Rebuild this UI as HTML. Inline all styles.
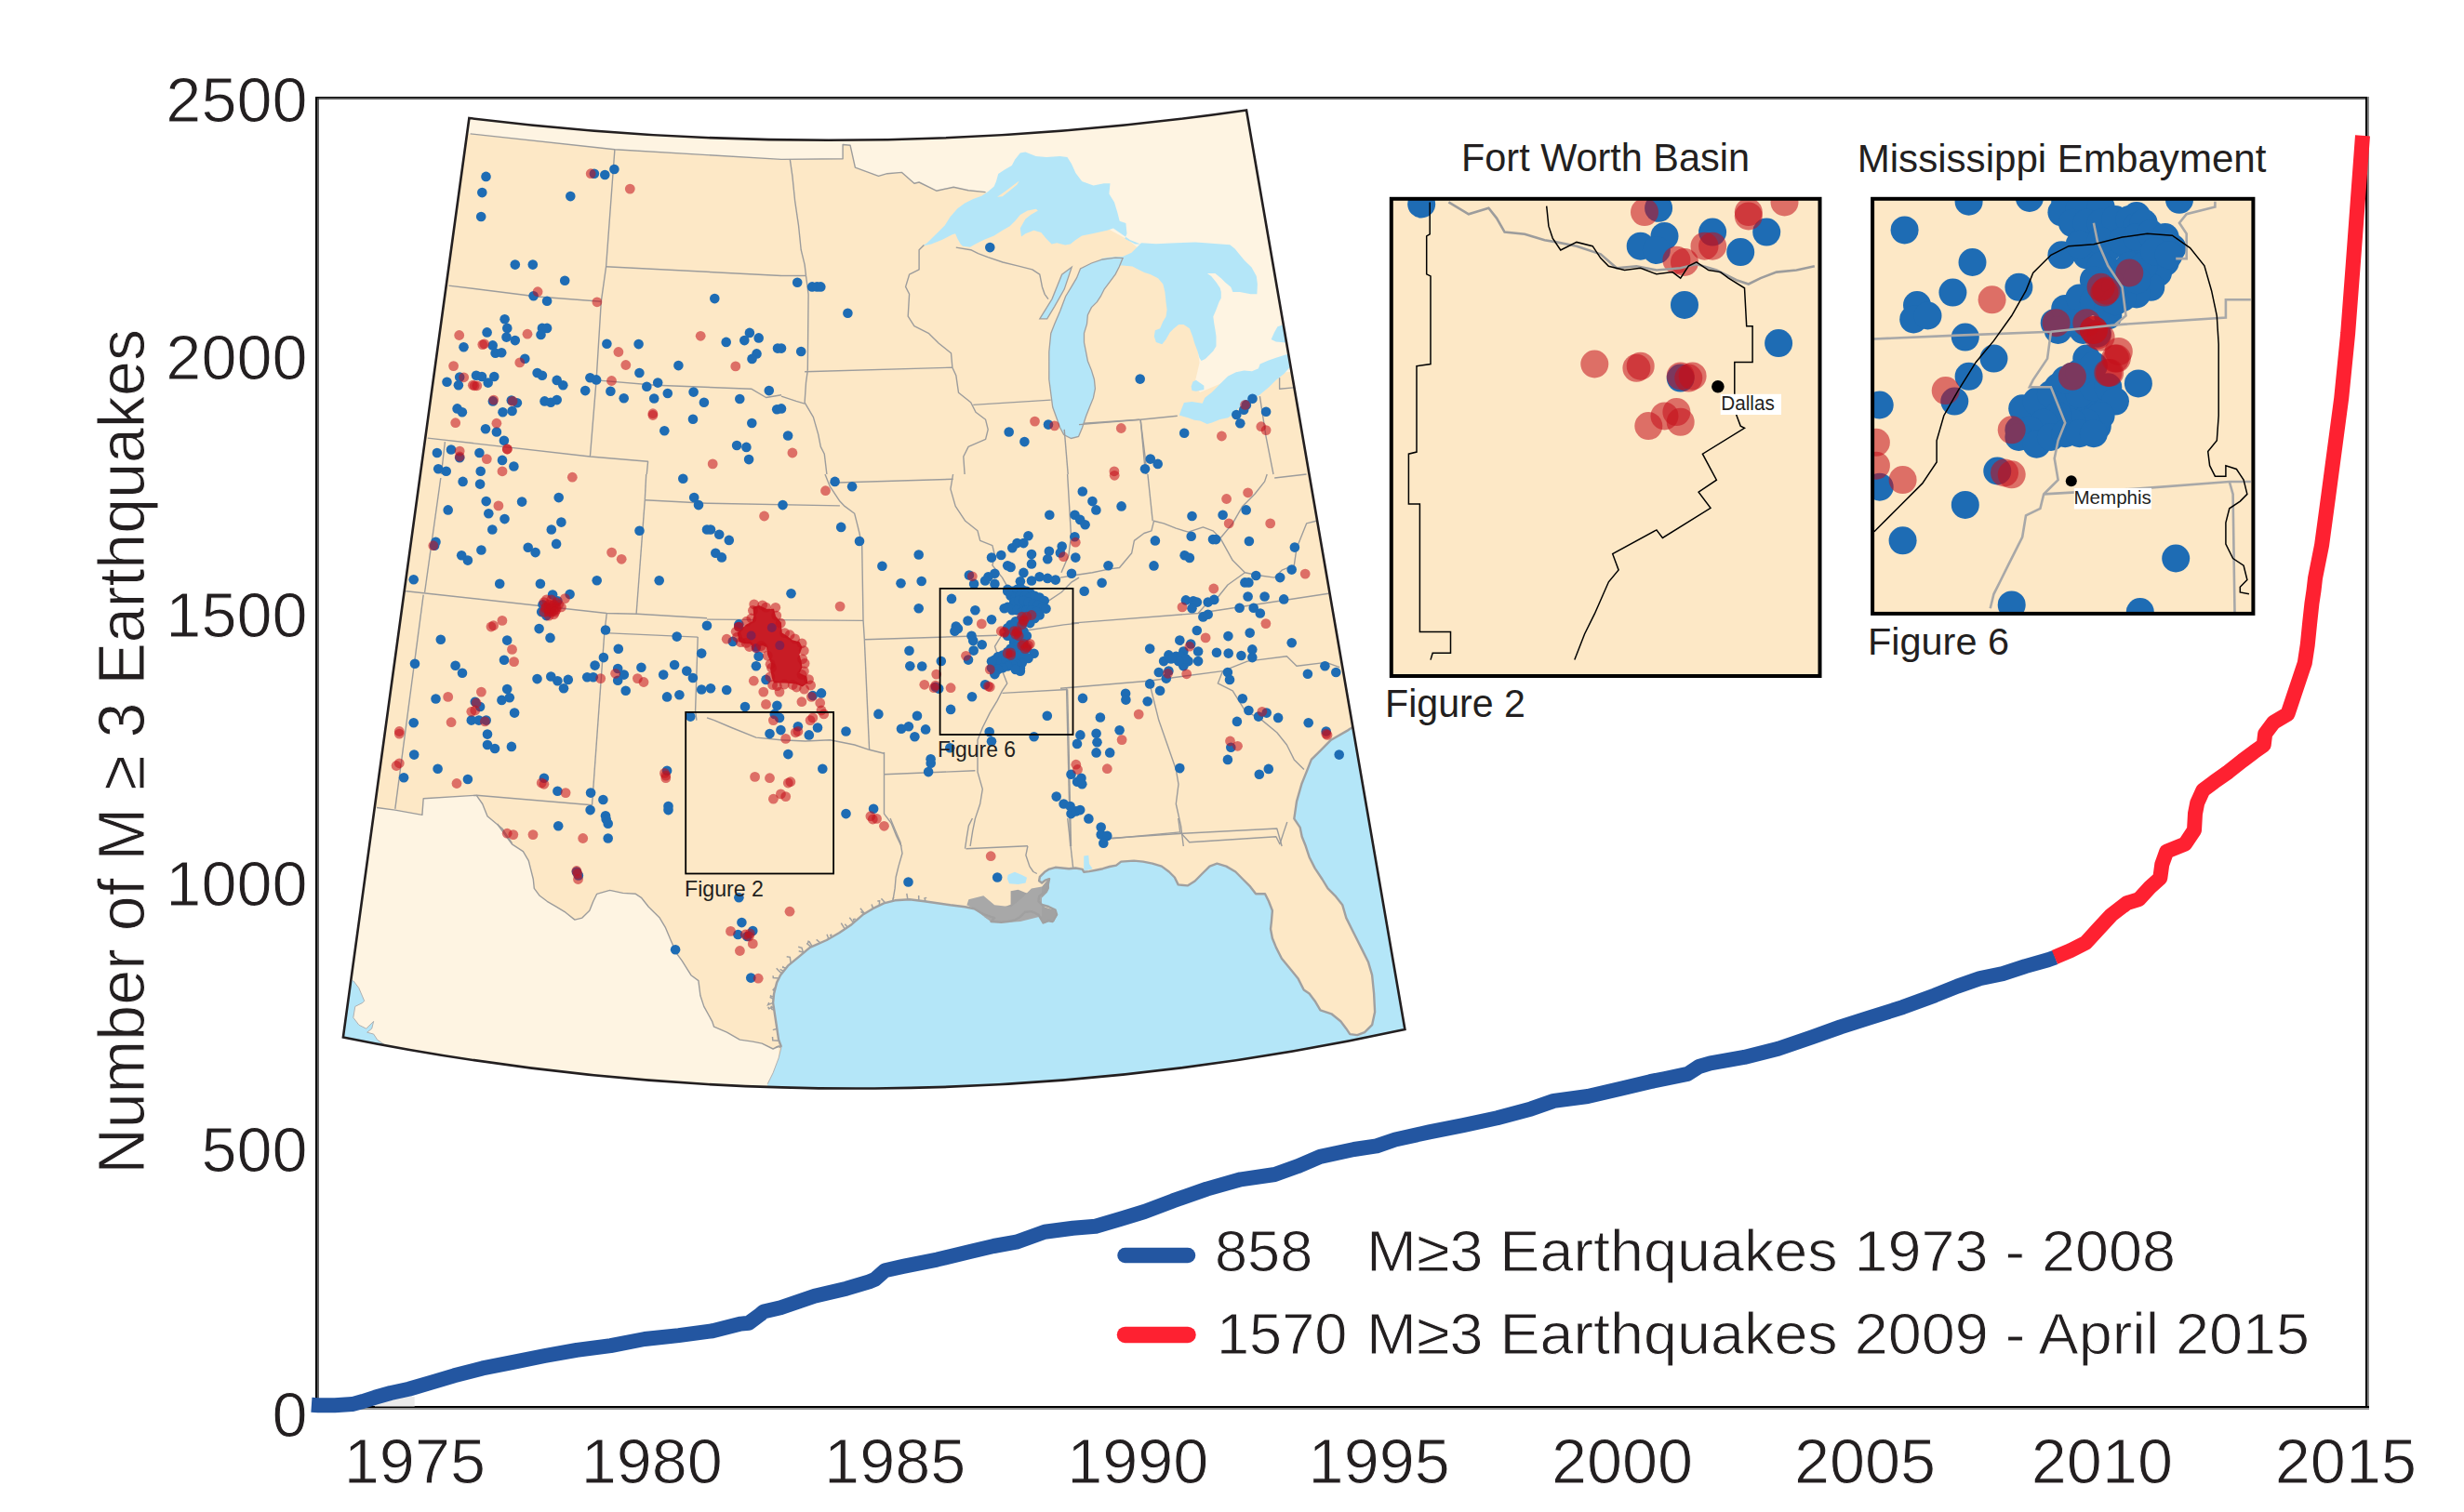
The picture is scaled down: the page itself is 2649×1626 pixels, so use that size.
<!DOCTYPE html>
<html><head><meta charset="utf-8"><title>Cumulative M&#8805;3 earthquakes</title>
<style>html,body{margin:0;padding:0;background:#fff;}body{width:2649px;height:1626px;overflow:hidden;}svg{display:block;}</style>
</head><body>
<svg width="2649" height="1626" viewBox="0 0 2649 1626">
<rect width="2649" height="1626" fill="#fff"/>
<rect x="339" y="104" width="2" height="1412" fill="#000"/>
<rect x="341" y="105" width="2" height="1409" fill="#606060"/>
<rect x="339" y="104" width="2208" height="1.3" fill="#000"/>
<rect x="341" y="105.3" width="2204" height="1.5" fill="#303030"/>
<rect x="2543" y="104" width="2" height="1412" fill="#000"/>
<rect x="2545" y="104" width="2" height="1412" fill="#888"/>
<rect x="339" y="1512" width="2208" height="2" fill="#000"/>
<rect x="339" y="1514" width="2208" height="2" fill="#959595"/>
<defs><clipPath id="mclip"><path d="M504.4,127 A3157.5,3157.5 0 0 0 1340,118.5 L1510.4,1107 A2777,2777 0 0 1 368.9,1115.4 Z"/></clipPath></defs>
<path d="M504.4,127 A3157.5,3157.5 0 0 0 1340,118.5 L1510.4,1107 A2777,2777 0 0 1 368.9,1115.4 Z" fill="#fde8c6"/>
<g clip-path="url(#mclip)">
<path d="M480.0,60.0 L1500.0,60.0 L1500.0,390.0 L1330.0,405.0 L1290.0,422.0 L1284.0,414.0 L1289.6,390.0 L1282.0,340.0 L1250.0,290.0 L1225.0,268.0 L1213.0,258.0 L1180.0,240.0 L1100.0,215.0 L1059.6,206.6 L1041.1,204.7 L1025.2,201.3 L1006.7,205.2 L988.1,196.0 L982.9,197.3 L969.6,185.4 L953.8,186.7 L944.5,189.4 L919.4,180.1 L914.1,156.3 L906.1,155.5 L906.1,170.8 L840.0,171.4 L660.9,160.8 L505.6,143.9 L480.0,143.0 Z" fill="#fef4e2"/>
<path d="M300.0,868.5 L405.0,868.5 L424.8,871.1 L453.9,876.4 L455.2,858.7 L512.1,855.2 L518.7,864.5 L524.0,877.7 L539.9,891.0 L534.6,886.0 L544.5,899.8 L550.5,907.8 L562.4,915.7 L568.3,925.6 L570.3,933.6 L573.3,945.5 L574.3,955.4 L580.2,963.3 L588.2,969.3 L598.1,975.2 L608.0,981.2 L617.9,989.1 L625.9,987.1 L633.8,979.2 L637.8,969.3 L641.7,961.3 L655.6,957.4 L669.5,960.4 L683.4,961.3 L689.4,965.3 L697.3,975.2 L709.2,987.1 L715.2,997.1 L721.1,1011.0 L727.1,1024.8 L733.0,1032.8 L742.9,1048.7 L750.9,1054.6 L752.9,1070.5 L756.8,1082.4 L765.6,1098.3 L767.6,1104.2 L781.5,1110.2 L795.4,1118.1 L809.3,1120.1 L819.2,1122.1 L831.1,1128.0 L837.1,1125.0 L837.1,1137.9 L831.1,1153.8 L825.2,1165.7 L824.0,1250.0 L300.0,1250.0 Z" fill="#fef4e2"/>
<path d="M824.0,1250.0 L825.2,1165.7 L831.1,1153.8 L837.1,1137.9 L840.0,1126.0 L837.1,1118.1 L834.1,1098.3 L831.1,1078.4 L832.1,1068.5 L835.1,1056.6 L839.0,1048.7 L847.0,1038.7 L858.9,1028.8 L870.8,1018.9 L888.7,1011.0 L902.5,1003.0 L914.4,995.1 L928.3,983.2 L938.3,977.2 L950.2,971.3 L962.1,968.3 L977.9,967.3 L993.8,969.3 L1007.7,971.3 L1021.6,973.3 L1037.5,975.2 L1047.4,977.2 L1057.3,983.2 L1069.2,987.1 L1065.5,991.0 L1076.4,991.7 L1083.7,991.0 L1090.9,989.5 L1096.8,985.9 L1101.9,980.8 L1109.1,980.1 L1116.4,983.7 L1121.5,992.4 L1127.3,990.2 L1131.7,991.0 L1136.1,983.7 L1134.6,978.6 L1127.3,975.0 L1120.1,972.8 L1116.4,969.1 L1117.1,964.0 L1122.2,959.7 L1125.9,955.3 L1128.1,945.1 L1123.7,946.6 L1120.1,949.5 L1117.1,947.3 L1117.9,942.9 L1123.0,937.8 L1127.3,934.9 L1134.6,932.8 L1141.9,933.5 L1149.2,934.2 L1156.4,933.5 L1163.7,934.9 L1165.2,937.8 L1171.0,937.1 L1178.3,935.7 L1185.6,934.2 L1192.8,932.0 L1200.0,930.6 L1205.2,926.6 L1219.1,925.6 L1229.0,926.6 L1239.0,928.6 L1248.9,931.6 L1256.8,937.5 L1262.8,943.5 L1266.7,951.4 L1276.7,952.4 L1284.6,947.5 L1292.5,939.5 L1300.5,931.6 L1308.4,928.6 L1318.3,931.6 L1328.3,937.5 L1336.2,945.5 L1344.1,953.4 L1350.1,961.3 L1360.0,961.3 L1364.0,969.3 L1367.9,979.2 L1366.9,991.1 L1366.0,999.0 L1367.9,1009.0 L1371.9,1018.9 L1377.9,1030.8 L1387.8,1042.7 L1395.7,1052.6 L1401.7,1064.5 L1407.6,1068.5 L1413.6,1076.4 L1419.5,1086.3 L1431.4,1090.3 L1441.3,1098.3 L1447.3,1106.2 L1451.3,1112.1 L1459.2,1113.1 L1467.1,1110.2 L1475.1,1102.2 L1478.1,1088.3 L1477.1,1068.5 L1475.1,1048.7 L1471.1,1034.8 L1463.2,1018.9 L1455.2,1003.0 L1447.3,987.1 L1443.3,973.3 L1435.4,963.3 L1427.5,955.4 L1421.5,945.5 L1413.6,933.6 L1407.6,921.7 L1403.7,909.8 L1399.7,899.8 L1397.7,889.9 L1391.3,880.4 L1394.0,861.9 L1399.3,843.3 L1404.6,830.1 L1409.8,816.9 L1420.4,806.3 L1431.0,795.7 L1449.5,785.1 L1455.3,781.2 L1600.0,781.0 L1600.0,1250.0 Z" fill="#b4e6f8"/>
<path d="M379.8,1054.6 L385.8,1062.5 L391.7,1076.4 L389.8,1078.4 L381.8,1082.4 L379.8,1094.3 L385.8,1102.2 L393.7,1106.2 L401.7,1098.3 L399.7,1106.2 L394.7,1110.2 L401.7,1112.1 L405.6,1118.1 L413.6,1123.7 L380.0,1250.0 L300.0,1250.0 L300.0,1054.6 Z" fill="#b4e6f8"/>
<path d="M991.1,264.7 L996.7,261.3 L1006.9,251.2 L1015.9,242.2 L1021.5,233.2 L1029.4,224.2 L1037.2,218.6 L1046.2,214.1 L1055.2,210.7 L1062.0,206.2 L1068.7,200.6 L1071.0,195.0 L1073.2,187.1 L1080.0,182.6 L1087.8,178.1 L1091.2,171.4 L1096.8,164.6 L1102.4,163.5 L1113.7,168.0 L1124.9,169.1 L1139.6,168.0 L1147.4,169.1 L1151.9,175.9 L1156.4,186.0 L1163.2,195.0 L1175.5,199.5 L1186.8,197.2 L1193.5,197.2 L1192.4,208.5 L1198.0,217.5 L1201.4,228.7 L1203.7,237.7 L1210.4,240.0 L1211.5,251.2 L1209.3,256.8 L1220.5,262.4 L1226.1,262.4 L1214.9,258.0 L1196.9,245.6 L1190.2,247.8 L1174.4,251.2 L1163.2,253.5 L1156.4,258.0 L1150.8,262.4 L1145.2,263.6 L1136.2,261.3 L1130.6,262.4 L1124.9,256.8 L1119.3,250.1 L1111.4,247.8 L1102.4,251.2 L1098.0,254.6 L1096.8,245.6 L1102.4,235.5 L1108.1,231.0 L1115.9,226.5 L1113.7,224.8 L1104.7,226.5 L1096.8,231.0 L1091.2,237.7 L1085.6,243.3 L1077.7,247.8 L1068.7,253.5 L1057.5,258.0 L1048.5,262.4 L1042.9,265.8 L1035.0,264.7 L1032.7,262.4 L1029.4,256.8 L1027.1,251.2 L1023.7,252.3 L1012.5,258.0 L1001.2,262.4 Z" fill="#b4e6f8"/>
<path d="M1139.7,460.0 L1131.7,437.8 L1127.8,408.0 L1127.8,378.3 L1129.8,358.4 L1133.7,348.5 L1139.7,334.6 L1145.6,318.7 L1151.6,308.8 L1157.5,298.9 L1161.5,289.0 L1173.4,283.0 L1185.3,279.0 L1199.2,277.1 L1207.1,277.5 L1203.2,287.0 L1199.2,294.9 L1193.3,302.9 L1187.3,310.8 L1183.3,318.7 L1179.4,324.7 L1173.4,330.6 L1169.4,338.6 L1168.5,348.5 L1165.5,358.4 L1165.5,368.3 L1167.5,378.3 L1169.4,388.2 L1173.4,398.1 L1176.4,408.0 L1177.4,417.9 L1175.4,427.9 L1171.4,437.8 L1167.5,447.7 L1163.5,460.0 L1159.5,469.5 L1151.6,471.5 L1143.7,467.5 Z" fill="#b4e6f8"/>
<path d="M1117.8,342.8 L1131.0,321.6 L1141.6,295.2 L1152.2,287.2 L1144.2,311.1 L1133.7,329.6 L1125.7,342.8 Z" fill="#b4e6f8"/>
<path d="M1190.0,287.6 L1196.3,286.6 L1200.6,285.5 L1206.9,285.5 L1217.5,286.6 L1221.7,288.7 L1230.2,292.9 L1236.6,295.0 L1245.0,299.3 L1250.3,305.6 L1252.4,314.1 L1253.5,324.7 L1254.6,333.1 L1253.5,340.5 L1250.3,345.8 L1247.1,353.2 L1241.9,355.3 L1240.8,361.7 L1242.9,368.0 L1249.3,370.2 L1253.5,364.9 L1257.7,357.5 L1262.0,353.2 L1267.2,349.0 L1272.5,349.0 L1278.9,353.2 L1282.1,361.7 L1284.2,369.1 L1287.4,377.6 L1289.5,385.0 L1291.6,388.1 L1295.8,386.0 L1300.1,381.8 L1304.3,377.6 L1307.5,372.3 L1307.5,361.7 L1306.4,354.3 L1305.3,347.9 L1304.3,340.5 L1307.5,333.1 L1310.6,324.7 L1312.8,320.4 L1312.8,314.1 L1311.7,309.8 L1307.5,303.5 L1302.2,297.1 L1297.9,294.0 L1306.4,294.0 L1312.8,299.3 L1317.0,303.5 L1323.3,308.8 L1325.4,314.1 L1332.9,314.1 L1344.5,316.2 L1351.4,316.2 L1351.9,305.6 L1350.8,297.1 L1345.6,287.6 L1338.1,280.2 L1332.9,273.9 L1327.6,267.5 L1322.3,263.3 L1295.8,261.2 L1285.2,260.6 L1264.1,261.2 L1242.9,262.2 L1227.0,261.2 L1221.7,266.5 L1216.5,271.7 L1206.9,276.0 L1200.6,276.0 L1190.0,277.0 L1183.7,278.1 L1183.7,287.6 Z" fill="#b4e6f8"/>
<path d="M1280.6,415.7 L1282.4,410.5 L1285.8,408.8 L1294.4,414.8 L1294.4,419.1 L1285.8,420.8 L1281.5,420.0 Z" fill="#b4e6f8"/>
<path d="M1267.7,446.6 L1277.2,449.2 L1284.1,451.8 L1290.1,452.6 L1297.8,456.1 L1303.0,454.4 L1311.6,450.9 L1320.2,449.2 L1325.3,445.8 L1330.5,439.7 L1337.4,433.7 L1346.0,428.6 L1353.7,425.1 L1358.9,420.8 L1364.0,416.5 L1371.8,408.8 L1380.4,401.9 L1387.3,394.2 L1385.5,380.4 L1380.4,382.1 L1371.8,384.7 L1363.2,387.7 L1354.6,391.6 L1352.9,396.3 L1346.0,399.3 L1337.4,398.5 L1328.8,400.2 L1320.2,404.5 L1311.6,413.1 L1303.0,421.7 L1295.3,427.7 L1292.7,433.7 L1281.5,432.0 L1272.9,432.9 Z" fill="#b4e6f8"/>
<path d="M1366.6,364.9 L1370.1,357.2 L1373.5,351.2 L1378.7,349.5 L1382.1,350.3 L1383.0,368.4 L1371.8,367.5 Z" fill="#b4e6f8"/>
<path d="M1083.7,940.8 L1090.9,937.8 L1098.2,940.8 L1104.0,943.7 L1102.6,949.5 L1094.6,950.9 L1085.1,950.2 L1082.9,945.1 Z" fill="#b4e6f8"/>
<path d="M1165.2,920.4 L1170.3,919.7 L1171.0,929.1 L1174.6,934.2 L1165.2,937.1 Z" fill="#b4e6f8"/>
<path d="M1086.6,958.2 L1094.6,956.8 L1101.9,959.7 L1109.1,961.9 L1116.4,958.2 L1122.2,950.9 L1127.3,945.1 L1128.1,955.3 L1125.9,959.7 L1120.1,965.5 L1117.1,969.9 L1123.7,975.7 L1133.2,978.6 L1136.8,983.7 L1133.2,991.0 L1127.3,991.0 L1122.2,993.2 L1116.4,983.7 L1109.1,980.1 L1101.9,980.8 L1096.8,985.9 L1090.9,989.5 L1076.4,991.7 L1065.5,991.0 L1058.2,985.9 L1069.1,980.1 L1076.4,976.4 L1086.6,972.8 Z" fill="#a2a2a2"/>
<path d="M1041.4,967.3 L1057.3,963.3 L1069.2,973.3 L1087.1,975.2 L1097.0,967.3 L1108.9,955.4 L1120.0,953.4 L1120.0,985.2 L1097.0,991.1 L1083.1,992.1 L1065.2,991.1 L1057.3,985.2 L1047.4,977.2 L1039.4,973.3 Z" fill="#a8a8a8"/>
<polyline points="837.5,1119.2 830.8,1118.7 830.5,1115.0" fill="none" stroke="#a0a0a0" stroke-width="1.5"/>
<polyline points="839.5,1124.5 834.0,1126.5" fill="none" stroke="#a0a0a0" stroke-width="1.5"/>
<polyline points="839.7,1125.3 837.6,1126.7" fill="none" stroke="#a0a0a0" stroke-width="1.5"/>
<polyline points="835.3,1106.3 830.8,1107.6" fill="none" stroke="#a0a0a0" stroke-width="1.5"/>
<polyline points="832.2,1085.9 829.9,1085.3 829.0,1081.7" fill="none" stroke="#a0a0a0" stroke-width="1.5"/>
<polyline points="831.8,1082.8 826.6,1084.8 825.8,1082.8" fill="none" stroke="#a0a0a0" stroke-width="1.5"/>
<polyline points="831.1,1078.4 825.6,1080.6 826.8,1078.0" fill="none" stroke="#a0a0a0" stroke-width="1.5"/>
<polyline points="831.8,1071.4 828.5,1071.8 828.7,1070.1" fill="none" stroke="#a0a0a0" stroke-width="1.5"/>
<polyline points="831.5,1074.4 827.7,1072.3" fill="none" stroke="#a0a0a0" stroke-width="1.5"/>
<polyline points="832.7,1066.0 831.1,1064.4 833.3,1062.0" fill="none" stroke="#a0a0a0" stroke-width="1.5"/>
<polyline points="837.3,1052.1 831.3,1051.5 831.1,1049.3" fill="none" stroke="#a0a0a0" stroke-width="1.5"/>
<polyline points="845.1,1041.1 841.7,1040.4 842.0,1038.8" fill="none" stroke="#a0a0a0" stroke-width="1.5"/>
<polyline points="840.4,1046.9 837.0,1043.7 834.7,1041.3" fill="none" stroke="#a0a0a0" stroke-width="1.5"/>
<polyline points="842.4,1044.5 838.6,1042.3" fill="none" stroke="#a0a0a0" stroke-width="1.5"/>
<polyline points="850.2,1036.0 849.3,1029.3 845.7,1028.8" fill="none" stroke="#a0a0a0" stroke-width="1.5"/>
<polyline points="863.6,1024.9 862.0,1019.3 858.2,1018.2" fill="none" stroke="#a0a0a0" stroke-width="1.5"/>
<polyline points="864.2,1024.4 858.7,1022.8" fill="none" stroke="#a0a0a0" stroke-width="1.5"/>
<polyline points="872.1,1018.3 867.8,1014.9 869.6,1012.6" fill="none" stroke="#a0a0a0" stroke-width="1.5"/>
<polyline points="881.9,1014.0 877.7,1010.4" fill="none" stroke="#a0a0a0" stroke-width="1.5"/>
<polyline points="873.2,1017.8 870.2,1012.9 868.4,1011.8" fill="none" stroke="#a0a0a0" stroke-width="1.5"/>
<polyline points="890.9,1009.7 889.0,1004.8" fill="none" stroke="#a0a0a0" stroke-width="1.5"/>
<polyline points="894.1,1007.9 892.8,1005.8 894.3,1004.9" fill="none" stroke="#a0a0a0" stroke-width="1.5"/>
<polyline points="911.3,997.2 908.3,993.7" fill="none" stroke="#a0a0a0" stroke-width="1.5"/>
<polyline points="908.3,999.1 904.3,992.7" fill="none" stroke="#a0a0a0" stroke-width="1.5"/>
<polyline points="917.6,992.4 913.3,986.7" fill="none" stroke="#a0a0a0" stroke-width="1.5"/>
<polyline points="918.3,991.8 917.6,988.6 919.8,988.2" fill="none" stroke="#a0a0a0" stroke-width="1.5"/>
<polyline points="928.9,982.8 925.5,980.3" fill="none" stroke="#a0a0a0" stroke-width="1.5"/>
<polyline points="929.6,982.4 924.9,976.8" fill="none" stroke="#a0a0a0" stroke-width="1.5"/>
<polyline points="945.3,973.7 945.6,968.9 943.3,969.0" fill="none" stroke="#a0a0a0" stroke-width="1.5"/>
<polyline points="938.6,977.1 937.1,972.4" fill="none" stroke="#a0a0a0" stroke-width="1.5"/>
<polyline points="951.8,970.9 948.6,967.5 947.4,966.4" fill="none" stroke="#a0a0a0" stroke-width="1.5"/>
<polyline points="959.6,968.9 960.7,964.9" fill="none" stroke="#a0a0a0" stroke-width="1.5"/>
<polyline points="975.9,967.4 974.8,960.8" fill="none" stroke="#a0a0a0" stroke-width="1.5"/>
<polyline points="987.8,968.5 987.7,963.1" fill="none" stroke="#a0a0a0" stroke-width="1.5"/>
<polyline points="995.1,969.5 994.0,966.1 996.2,965.4" fill="none" stroke="#a0a0a0" stroke-width="1.5"/>
<path d="M1139.7,460.0 L1131.7,437.8 L1127.8,408.0 L1127.8,378.3 L1129.8,358.4 L1133.7,348.5 L1139.7,334.6 L1145.6,318.7 L1151.6,308.8 L1157.5,298.9 L1161.5,289.0 L1173.4,283.0 L1185.3,279.0 L1199.2,277.1 L1207.1,277.5 L1203.2,287.0 L1199.2,294.9 L1193.3,302.9 L1187.3,310.8 L1183.3,318.7 L1179.4,324.7 L1173.4,330.6 L1169.4,338.6 L1168.5,348.5 L1165.5,358.4 L1165.5,368.3 L1167.5,378.3 L1169.4,388.2 L1173.4,398.1 L1176.4,408.0 L1177.4,417.9 L1175.4,427.9 L1171.4,437.8 L1167.5,447.7 L1163.5,460.0 L1159.5,469.5 L1151.6,471.5 L1143.7,467.5 Z" fill="none" stroke="#a0a0a0" stroke-width="1.3"/>
<path d="M1117.8,342.8 L1131.0,321.6 L1141.6,295.2 L1152.2,287.2 L1144.2,311.1 L1133.7,329.6 L1125.7,342.8 Z" fill="none" stroke="#a0a0a0" stroke-width="1.3"/>
<path d="M1072.1,211.8 L1080.0,206.2 L1089.0,199.5 L1095.7,194.4 L1093.5,198.4 L1085.6,205.1 L1077.7,211.3 Z" fill="#fde8c6"/>
<g fill="none" stroke="#9c9c9c" stroke-width="1.4" stroke-linejoin="round">
<polyline points="660.9,160.8 651.6,286.7 646.3,324.3 641.1,408.9 634.4,491.0"/>
<polyline points="482.3,307.1 577.6,319.0 646.3,324.3"/>
<polyline points="651.6,286.7 840.0,296.5"/>
<polyline points="641.1,408.9 704.6,414.2 807.7,418.2 823.6,427.5 840.0,424.8"/>
<polyline points="459.8,471.1 634.4,491.0 696.6,496.2 695.3,510.0"/>
<polyline points="478.4,475.1 474.4,510.0"/>
<polyline points="849.3,171.4 851.9,189.4 854.6,215.8 858.5,242.3 861.2,268.7 865.1,284.6 866.5,296.5"/>
<polyline points="840.0,296.5 866.5,296.5"/>
<polyline points="866.5,296.5 869.1,316.3 868.3,398.4"/>
<polyline points="865.1,399.7 1023.9,395.2"/>
<polyline points="993.4,263.4 988.1,268.7 988.1,289.9 977.6,295.2 973.6,308.4 977.6,316.3 976.2,340.2 982.9,350.7 998.7,358.7 1009.3,369.3 1022.5,379.8 1023.9,395.2"/>
<polyline points="1023.9,395.2 1027.8,403.7 1030.5,422.2 1043.7,432.8 1049.0,443.3 1059.6,451.3 1062.2,461.9 1059.6,472.4 1041.1,480.4 1035.8,491.0 1037.1,510.0"/>
<polyline points="868.3,398.4 866.5,411.6 865.1,432.8 874.4,448.6 879.7,467.1 882.3,480.4 886.3,488.3 888.9,510.0"/>
<polyline points="840.0,426.1 855.9,431.4 865.1,434.1"/>
<polyline points="1046.3,435.4 1129.7,430.1"/>
<polyline points="1027.8,266.1 1043.7,268.7 1051.6,272.7 1062.2,276.7 1078.1,282.0 1094.0,285.9 1109.8,289.9 1117.8,295.2 1120.4,308.4 1123.1,316.3 1127.0,321.6"/>
<polyline points="1165.4,455.2 1224.9,451.3"/>
<polyline points="1226.2,451.3 1231.5,510.0"/>
<polyline points="1144.2,461.9 1148.2,510.0"/>
<polyline points="1160.0,456.6 1226.1,451.3 1265.8,447.3"/>
<polyline points="1226.1,451.3 1231.4,493.6 1232.8,510.0"/>
<polyline points="1354.4,426.1 1361.1,469.8 1369.0,510.0"/>
<polyline points="1375.6,406.3 1375.6,418.2 1390.2,416.9"/>
<polyline points="473.8,514.0 456.6,637.0"/>
<polyline points="455.2,639.6 424.8,869.8"/>
<polyline points="436.7,635.7 652.3,659.5 685.4,660.3 760.0,664.8"/>
<polyline points="684.1,660.3 693.3,537.8"/>
<polyline points="694.7,510.0 693.3,537.8"/>
<polyline points="693.3,537.8 760.0,541.2"/>
<polyline points="652.3,659.5 649.7,682.0"/>
<polyline points="649.7,682.0 636.5,865.8"/>
<polyline points="649.7,680.6 750.2,685.1"/>
<polyline points="750.2,685.1 747.6,764.0 748.9,774.6"/>
<polyline points="512.1,855.2 636.5,865.8"/>
<polyline points="360.0,634.3 436.7,635.7"/>
<polyline points="760.0,541.2 902.9,543.9"/>
<polyline points="887.0,510.0 892.3,523.2 902.9,539.1 908.1,544.4 918.7,552.3 921.4,562.9 924.0,573.5 926.7,586.7"/>
<polyline points="926.7,586.7 928.0,666.1 929.3,687.2"/>
<polyline points="760.0,666.1 928.0,667.4"/>
<polyline points="929.3,687.8 1072.2,683.3"/>
<polyline points="929.3,687.2 934.6,806.3"/>
<polyline points="760.0,771.9 767.9,774.6 786.5,782.5 812.9,793.1 839.4,795.7 865.8,797.0 892.3,795.7 918.7,801.0 934.6,806.3 950.5,810.3"/>
<polyline points="950.5,808.9 950.5,832.8"/>
<polyline points="950.5,832.8 1048.4,828.8"/>
<polyline points="950.5,832.8 950.5,875.1 958.4,885.7 963.7,898.9 969.0,910.0"/>
<polyline points="892.3,519.3 1024.6,515.3"/>
<polyline points="1024.6,510.0 1021.9,525.9 1027.2,544.4 1037.8,560.3 1051.0,570.8 1053.7,581.4 1066.9,586.7 1069.5,597.3 1066.9,607.9 1077.5,621.1 1088.0,639.6 1103.9,655.5 1090.7,674.0 1077.5,682.0 1069.5,695.2 1074.8,711.1 1077.5,721.6 1082.8,734.9 1077.5,742.8 1072.2,753.4 1064.2,766.6 1056.3,782.5 1051.0,795.7 1051.0,814.2 1051.0,830.1 1056.3,848.6 1053.7,864.5 1048.4,880.4 1045.7,893.6 1043.1,910.0"/>
<polyline points="1077.5,745.4 1147.6,741.5"/>
<polyline points="1147.6,741.5 1151.5,910.0"/>
<polyline points="1147.6,510.0 1151.5,576.1 1148.9,597.3 1141.0,615.8"/>
<polyline points="1103.9,655.5 1125.1,647.6 1141.0,637.0 1151.5,626.4 1160.0,621.1"/>
<polyline points="1077.5,682.0 1143.6,671.9 1160.0,670.1"/>
<polyline points="1151.9,670.1 1288.1,659.5 1428.4,638.3"/>
<polyline points="1140.0,740.2 1235.2,732.2 1314.6,721.6 1341.1,711.1 1383.4,705.8 1394.0,716.3 1425.7,712.4 1440.3,717.7"/>
<polyline points="1146.6,740.2 1150.6,910.0"/>
<polyline points="1235.2,732.2 1245.8,774.6 1264.3,827.5 1267.0,843.3 1264.3,864.5 1269.6,888.3 1272.3,910.0"/>
<polyline points="1314.6,721.6 1309.3,734.9 1325.2,742.8 1338.4,764.0 1356.9,774.6 1372.8,787.8 1383.4,801.0 1391.3,816.9 1401.9,827.5"/>
<polyline points="1140.0,621.1 1155.9,618.5 1174.4,615.8 1192.9,611.9 1203.5,610.5 1216.7,594.7 1219.4,581.4 1229.9,573.5 1237.9,570.8 1240.5,560.3 1251.1,562.9 1264.3,568.2 1277.6,572.2 1293.4,566.9 1304.0,570.8 1312.0,578.8"/>
<polyline points="1312.0,578.8 1325.2,602.6 1338.4,615.8 1319.9,629.0 1309.3,642.3 1298.7,647.6 1288.1,659.5"/>
<polyline points="1312.0,578.8 1325.2,562.9 1335.8,544.4 1349.0,531.2 1359.6,517.9 1362.2,510.0"/>
<polyline points="1338.4,615.8 1351.6,618.5 1370.2,621.1 1378.1,613.2 1391.3,607.9 1394.0,589.4 1404.6,562.9 1415.1,560.3"/>
<polyline points="1233.9,510.0 1239.2,560.3"/>
<polyline points="1370.2,514.0 1404.6,510.0"/>
<polyline points="1192.9,901.5 1272.3,896.2 1372.8,891.0 1378.1,910.0"/>
<polyline points="957.1,880.0 962.1,891.9 968.0,905.8 970.0,917.7 966.0,931.6 963.1,943.5 962.1,955.4 960.1,967.3"/>
<polyline points="1038.5,912.7 1104.9,909.8"/>
<polyline points="1045.4,880.0 1041.4,887.9 1039.4,899.8 1037.5,912.7"/>
<polyline points="1104.9,909.8 1102.9,919.7 1106.9,931.6 1110.9,937.5 1114.8,939.5"/>
<polyline points="1195.3,901.8 1268.7,894.9"/>
<polyline points="1268.7,894.9 1278.7,905.8 1371.9,899.8 1375.9,907.8 1379.8,895.9 1383.8,884.0"/>
<polyline points="1266.7,880.0 1268.7,894.9"/>
<polyline points="1147.7,880.0 1153.7,933.6"/>
<polyline points="505.6,143.9 660.9,160.8 840.0,171.4 906.1,170.8 906.1,155.5 914.1,156.3 919.4,180.1 944.5,189.4 953.8,186.7 969.6,185.4 982.9,197.3 988.1,196.0 1006.7,205.2 1025.2,201.3 1041.1,204.7 1059.6,206.6"/>
<polyline points="405.0,868.5 424.8,871.1 453.9,876.4 455.2,858.7 512.1,855.2 518.7,864.5 524.0,877.7 539.9,891.0 550.5,906.8"/>
<polyline points="534.6,886.0 544.5,899.8 550.5,907.8 562.4,915.7 568.3,925.6 570.3,933.6 573.3,945.5 574.3,955.4 580.2,963.3 588.2,969.3 598.1,975.2 608.0,981.2 617.9,989.1 625.9,987.1 633.8,979.2 637.8,969.3 641.7,961.3 655.6,957.4 669.5,960.4 683.4,961.3 689.4,965.3 697.3,975.2 709.2,987.1 715.2,997.1 721.1,1011.0 727.1,1024.8 733.0,1032.8 742.9,1048.7 750.9,1054.6 752.9,1070.5 756.8,1082.4 765.6,1098.3 767.6,1104.2 781.5,1110.2 795.4,1118.1 809.3,1120.1 819.2,1122.1 831.1,1128.0 837.1,1125.0"/>
</g>
<polyline points="840.0,1126.0 837.1,1118.1 834.1,1098.3 831.1,1078.4 832.1,1068.5 835.1,1056.6 839.0,1048.7 847.0,1038.7 858.9,1028.8 870.8,1018.9 888.7,1011.0 902.5,1003.0 914.4,995.1 928.3,983.2 938.3,977.2 950.2,971.3 962.1,968.3 977.9,967.3 993.8,969.3 1007.7,971.3 1021.6,973.3 1037.5,975.2 1047.4,977.2 1057.3,983.2 1069.2,987.1 1065.5,991.0 1076.4,991.7 1083.7,991.0 1090.9,989.5 1096.8,985.9 1101.9,980.8 1109.1,980.1 1116.4,983.7 1121.5,992.4 1127.3,990.2 1131.7,991.0 1136.1,983.7 1134.6,978.6 1127.3,975.0 1120.1,972.8 1116.4,969.1 1117.1,964.0 1122.2,959.7 1125.9,955.3 1128.1,945.1 1123.7,946.6 1120.1,949.5 1117.1,947.3 1117.9,942.9 1123.0,937.8 1127.3,934.9 1134.6,932.8 1141.9,933.5 1149.2,934.2 1156.4,933.5 1163.7,934.9 1165.2,937.8 1171.0,937.1 1178.3,935.7 1185.6,934.2 1192.8,932.0 1200.0,930.6 1205.2,926.6 1219.1,925.6 1229.0,926.6 1239.0,928.6 1248.9,931.6 1256.8,937.5 1262.8,943.5 1266.7,951.4 1276.7,952.4 1284.6,947.5 1292.5,939.5 1300.5,931.6 1308.4,928.6 1318.3,931.6 1328.3,937.5 1336.2,945.5 1344.1,953.4 1350.1,961.3 1360.0,961.3 1364.0,969.3 1367.9,979.2 1366.9,991.1 1366.0,999.0 1367.9,1009.0 1371.9,1018.9 1377.9,1030.8 1387.8,1042.7 1395.7,1052.6 1401.7,1064.5 1407.6,1068.5 1413.6,1076.4 1419.5,1086.3 1431.4,1090.3 1441.3,1098.3 1447.3,1106.2 1451.3,1112.1 1459.2,1113.1 1467.1,1110.2 1475.1,1102.2 1478.1,1088.3 1477.1,1068.5 1475.1,1048.7 1471.1,1034.8 1463.2,1018.9 1455.2,1003.0 1447.3,987.1 1443.3,973.3 1435.4,963.3 1427.5,955.4 1421.5,945.5 1413.6,933.6 1407.6,921.7 1403.7,909.8 1399.7,899.8 1397.7,889.9 1391.3,880.4 1394.0,861.9 1399.3,843.3 1404.6,830.1 1409.8,816.9 1420.4,806.3 1431.0,795.7 1449.5,785.1 1455.3,781.2" fill="none" stroke="#a0a0a0" stroke-width="2.4" stroke-linejoin="round"/>
<polyline points="840.0,1126.0 837.1,1137.9 831.1,1153.8 825.2,1165.7" fill="none" stroke="#b0b0b0" stroke-width="1"/>
<polyline points="379.8,1054.6 385.8,1062.5 391.7,1076.4 389.8,1078.4 381.8,1082.4 379.8,1094.3 385.8,1102.2 393.7,1106.2 401.7,1098.3 399.7,1106.2 394.7,1110.2 401.7,1112.1 405.6,1118.1 413.6,1123.7" fill="none" stroke="#b0b0b0" stroke-width="1"/>
<g fill="#1e6cb4">
<circle cx="522.5" cy="189.9" r="5.3"/>
<circle cx="518.3" cy="207.1" r="5.3"/>
<circle cx="517.2" cy="233.0" r="5.3"/>
<circle cx="613.3" cy="211.1" r="5.3"/>
<circle cx="638.9" cy="186.7" r="5.3"/>
<circle cx="650.3" cy="188.0" r="5.3"/>
<circle cx="660.4" cy="182.0" r="5.3"/>
<circle cx="553.8" cy="284.6" r="5.3"/>
<circle cx="572.8" cy="284.6" r="5.3"/>
<circle cx="607.2" cy="301.8" r="5.3"/>
<circle cx="573.6" cy="318.2" r="5.3"/>
<circle cx="588.1" cy="323.8" r="5.3"/>
<circle cx="768.3" cy="321.1" r="5.3"/>
<circle cx="542.6" cy="343.3" r="5.3"/>
<circle cx="545.3" cy="352.9" r="5.3"/>
<circle cx="523.6" cy="357.4" r="5.3"/>
<circle cx="544.5" cy="362.6" r="5.3"/>
<circle cx="553.8" cy="366.1" r="5.3"/>
<circle cx="582.9" cy="352.9" r="5.3"/>
<circle cx="588.1" cy="352.9" r="5.3"/>
<circle cx="581.5" cy="360.0" r="5.3"/>
<circle cx="652.4" cy="369.8" r="5.3"/>
<circle cx="686.6" cy="370.1" r="5.3"/>
<circle cx="805.9" cy="357.9" r="5.3"/>
<circle cx="780.7" cy="367.9" r="5.3"/>
<circle cx="800.3" cy="366.1" r="5.3"/>
<circle cx="815.7" cy="363.4" r="5.3"/>
<circle cx="836.0" cy="374.6" r="5.3"/>
<circle cx="813.5" cy="380.4" r="5.3"/>
<circle cx="808.5" cy="385.9" r="5.3"/>
<circle cx="729.4" cy="393.1" r="5.3"/>
<circle cx="498.5" cy="373.2" r="5.3"/>
<circle cx="529.7" cy="371.4" r="5.3"/>
<circle cx="532.6" cy="379.8" r="5.3"/>
<circle cx="539.2" cy="379.3" r="5.3"/>
<circle cx="564.3" cy="385.7" r="5.3"/>
<circle cx="687.4" cy="401.0" r="5.3"/>
<circle cx="577.6" cy="401.0" r="5.3"/>
<circle cx="582.9" cy="403.7" r="5.3"/>
<circle cx="598.7" cy="408.9" r="5.3"/>
<circle cx="605.3" cy="414.2" r="5.3"/>
<circle cx="634.4" cy="406.3" r="5.3"/>
<circle cx="641.1" cy="408.4" r="5.3"/>
<circle cx="629.2" cy="420.1" r="5.3"/>
<circle cx="656.4" cy="420.8" r="5.3"/>
<circle cx="670.7" cy="428.3" r="5.3"/>
<circle cx="695.3" cy="415.8" r="5.3"/>
<circle cx="707.2" cy="411.6" r="5.3"/>
<circle cx="717.8" cy="423.0" r="5.3"/>
<circle cx="745.6" cy="421.6" r="5.3"/>
<circle cx="756.9" cy="432.8" r="5.3"/>
<circle cx="795.3" cy="429.0" r="5.3"/>
<circle cx="826.8" cy="420.1" r="5.3"/>
<circle cx="835.2" cy="440.2" r="5.3"/>
<circle cx="703.2" cy="428.5" r="5.3"/>
<circle cx="480.5" cy="410.8" r="5.3"/>
<circle cx="492.9" cy="414.2" r="5.3"/>
<circle cx="494.2" cy="405.5" r="5.3"/>
<circle cx="512.0" cy="403.7" r="5.3"/>
<circle cx="518.0" cy="405.0" r="5.3"/>
<circle cx="524.7" cy="411.6" r="5.3"/>
<circle cx="531.3" cy="405.0" r="5.3"/>
<circle cx="529.9" cy="431.4" r="5.3"/>
<circle cx="549.8" cy="430.6" r="5.3"/>
<circle cx="555.9" cy="433.3" r="5.3"/>
<circle cx="585.5" cy="431.4" r="5.3"/>
<circle cx="592.1" cy="432.8" r="5.3"/>
<circle cx="598.7" cy="430.1" r="5.3"/>
<circle cx="491.6" cy="439.4" r="5.3"/>
<circle cx="496.9" cy="443.3" r="5.3"/>
<circle cx="540.5" cy="443.3" r="5.3"/>
<circle cx="550.6" cy="442.0" r="5.3"/>
<circle cx="745.0" cy="450.7" r="5.3"/>
<circle cx="808.3" cy="455.0" r="5.3"/>
<circle cx="522.0" cy="461.3" r="5.3"/>
<circle cx="533.9" cy="464.5" r="5.3"/>
<circle cx="541.9" cy="473.8" r="5.3"/>
<circle cx="714.3" cy="463.2" r="5.3"/>
<circle cx="792.1" cy="479.0" r="5.3"/>
<circle cx="802.4" cy="480.9" r="5.3"/>
<circle cx="805.1" cy="494.1" r="5.3"/>
<circle cx="469.9" cy="487.0" r="5.3"/>
<circle cx="485.0" cy="483.5" r="5.3"/>
<circle cx="515.4" cy="487.0" r="5.3"/>
<circle cx="494.2" cy="492.3" r="5.3"/>
<circle cx="540.0" cy="494.9" r="5.3"/>
<circle cx="552.4" cy="501.5" r="5.3"/>
<circle cx="471.2" cy="504.2" r="5.3"/>
<circle cx="479.7" cy="506.8" r="5.3"/>
<circle cx="516.7" cy="506.8" r="5.3"/>
<circle cx="1064.3" cy="266.1" r="5.3"/>
<circle cx="857.2" cy="303.7" r="5.3"/>
<circle cx="873.1" cy="308.4" r="5.3"/>
<circle cx="878.4" cy="308.4" r="5.3"/>
<circle cx="882.3" cy="308.4" r="5.3"/>
<circle cx="911.4" cy="336.7" r="5.3"/>
<circle cx="840.0" cy="374.6" r="5.3"/>
<circle cx="861.2" cy="378.0" r="5.3"/>
<circle cx="1225.7" cy="407.6" r="5.3"/>
<circle cx="1127.0" cy="456.6" r="5.3"/>
<circle cx="1084.7" cy="464.5" r="5.3"/>
<circle cx="1101.4" cy="475.1" r="5.3"/>
<circle cx="847.1" cy="468.5" r="5.3"/>
<circle cx="1236.8" cy="493.6" r="5.3"/>
<circle cx="1231.0" cy="504.2" r="5.3"/>
<circle cx="840.0" cy="439.4" r="5.3"/>
<circle cx="1346.5" cy="428.8" r="5.3"/>
<circle cx="1329.3" cy="446.0" r="5.3"/>
<circle cx="1337.2" cy="440.7" r="5.3"/>
<circle cx="1333.3" cy="455.2" r="5.3"/>
<circle cx="1361.1" cy="442.8" r="5.3"/>
<circle cx="1273.2" cy="465.8" r="5.3"/>
<circle cx="1244.7" cy="498.9" r="5.3"/>
<circle cx="1339.9" cy="435.4" r="5.3"/>
<circle cx="497.6" cy="517.9" r="5.3"/>
<circle cx="516.1" cy="520.6" r="5.3"/>
<circle cx="522.7" cy="539.1" r="5.3"/>
<circle cx="561.1" cy="539.6" r="5.3"/>
<circle cx="600.7" cy="535.1" r="5.3"/>
<circle cx="734.3" cy="514.8" r="5.3"/>
<circle cx="481.7" cy="548.4" r="5.3"/>
<circle cx="525.3" cy="552.3" r="5.3"/>
<circle cx="542.5" cy="558.1" r="5.3"/>
<circle cx="529.3" cy="569.5" r="5.3"/>
<circle cx="592.8" cy="569.5" r="5.3"/>
<circle cx="603.4" cy="561.6" r="5.3"/>
<circle cx="598.1" cy="584.9" r="5.3"/>
<circle cx="687.5" cy="570.8" r="5.3"/>
<circle cx="746.2" cy="535.1" r="5.3"/>
<circle cx="751.0" cy="543.1" r="5.3"/>
<circle cx="467.1" cy="586.7" r="5.3"/>
<circle cx="468.5" cy="582.8" r="5.3"/>
<circle cx="496.2" cy="597.3" r="5.3"/>
<circle cx="502.9" cy="602.6" r="5.3"/>
<circle cx="517.4" cy="591.5" r="5.3"/>
<circle cx="567.7" cy="588.8" r="5.3"/>
<circle cx="575.6" cy="594.1" r="5.3"/>
<circle cx="537.2" cy="627.7" r="5.3"/>
<circle cx="580.9" cy="627.7" r="5.3"/>
<circle cx="641.7" cy="624.3" r="5.3"/>
<circle cx="708.7" cy="624.3" r="5.3"/>
<circle cx="444.7" cy="623.2" r="5.3"/>
<circle cx="594.1" cy="639.6" r="5.3"/>
<circle cx="612.6" cy="639.1" r="5.3"/>
<circle cx="760.0" cy="672.7" r="5.3"/>
<circle cx="651.0" cy="677.5" r="5.3"/>
<circle cx="579.6" cy="676.1" r="5.3"/>
<circle cx="591.5" cy="685.9" r="5.3"/>
<circle cx="473.8" cy="687.8" r="5.3"/>
<circle cx="545.2" cy="688.6" r="5.3"/>
<circle cx="664.8" cy="697.8" r="5.3"/>
<circle cx="727.7" cy="684.6" r="5.3"/>
<circle cx="648.9" cy="707.1" r="5.3"/>
<circle cx="754.2" cy="702.6" r="5.3"/>
<circle cx="446.0" cy="713.7" r="5.3"/>
<circle cx="489.6" cy="715.8" r="5.3"/>
<circle cx="497.0" cy="723.8" r="5.3"/>
<circle cx="542.0" cy="709.7" r="5.3"/>
<circle cx="639.6" cy="715.6" r="5.3"/>
<circle cx="725.1" cy="715.0" r="5.3"/>
<circle cx="689.4" cy="717.7" r="5.3"/>
<circle cx="738.3" cy="721.6" r="5.3"/>
<circle cx="744.9" cy="729.0" r="5.3"/>
<circle cx="577.5" cy="730.1" r="5.3"/>
<circle cx="592.3" cy="727.5" r="5.3"/>
<circle cx="599.4" cy="732.2" r="5.3"/>
<circle cx="610.8" cy="730.9" r="5.3"/>
<circle cx="606.0" cy="740.2" r="5.3"/>
<circle cx="631.2" cy="728.3" r="5.3"/>
<circle cx="637.8" cy="728.3" r="5.3"/>
<circle cx="664.2" cy="719.0" r="5.3"/>
<circle cx="670.8" cy="725.6" r="5.3"/>
<circle cx="664.2" cy="731.7" r="5.3"/>
<circle cx="672.7" cy="742.8" r="5.3"/>
<circle cx="713.2" cy="725.6" r="5.3"/>
<circle cx="754.2" cy="741.5" r="5.3"/>
<circle cx="717.1" cy="749.4" r="5.3"/>
<circle cx="730.4" cy="747.3" r="5.3"/>
<circle cx="545.2" cy="741.0" r="5.3"/>
<circle cx="539.4" cy="752.9" r="5.3"/>
<circle cx="547.8" cy="750.2" r="5.3"/>
<circle cx="468.5" cy="751.5" r="5.3"/>
<circle cx="553.1" cy="766.6" r="5.3"/>
<circle cx="510.8" cy="754.7" r="5.3"/>
<circle cx="516.1" cy="760.0" r="5.3"/>
<circle cx="506.8" cy="774.6" r="5.3"/>
<circle cx="514.8" cy="774.6" r="5.3"/>
<circle cx="522.7" cy="774.6" r="5.3"/>
<circle cx="444.7" cy="777.2" r="5.3"/>
<circle cx="524.0" cy="789.6" r="5.3"/>
<circle cx="524.0" cy="801.0" r="5.3"/>
<circle cx="532.0" cy="805.0" r="5.3"/>
<circle cx="549.9" cy="802.9" r="5.3"/>
<circle cx="445.2" cy="811.6" r="5.3"/>
<circle cx="470.6" cy="826.7" r="5.3"/>
<circle cx="434.1" cy="836.2" r="5.3"/>
<circle cx="502.9" cy="838.0" r="5.3"/>
<circle cx="584.9" cy="836.7" r="5.3"/>
<circle cx="599.4" cy="850.7" r="5.3"/>
<circle cx="635.1" cy="852.6" r="5.3"/>
<circle cx="648.4" cy="860.0" r="5.3"/>
<circle cx="634.6" cy="871.1" r="5.3"/>
<circle cx="651.0" cy="877.2" r="5.3"/>
<circle cx="653.7" cy="885.7" r="5.3"/>
<circle cx="600.2" cy="888.3" r="5.3"/>
<circle cx="653.7" cy="901.5" r="5.3"/>
<circle cx="718.5" cy="871.1" r="5.3"/>
<circle cx="718.5" cy="867.1" r="5.3"/>
<circle cx="742.3" cy="770.6" r="5.3"/>
<circle cx="717.1" cy="828.8" r="5.3"/>
<circle cx="760.0" cy="569.5" r="5.3"/>
<circle cx="582.2" cy="658.1" r="5.3"/>
<circle cx="587.5" cy="662.1" r="5.3"/>
<circle cx="583.5" cy="650.2" r="5.3"/>
<circle cx="599.4" cy="646.2" r="5.3"/>
<circle cx="897.6" cy="517.9" r="5.3"/>
<circle cx="916.1" cy="523.2" r="5.3"/>
<circle cx="841.5" cy="543.1" r="5.3"/>
<circle cx="904.2" cy="566.9" r="5.3"/>
<circle cx="924.0" cy="582.0" r="5.3"/>
<circle cx="764.0" cy="569.5" r="5.3"/>
<circle cx="773.2" cy="574.8" r="5.3"/>
<circle cx="783.8" cy="580.9" r="5.3"/>
<circle cx="769.3" cy="594.7" r="5.3"/>
<circle cx="775.9" cy="599.4" r="5.3"/>
<circle cx="850.5" cy="638.3" r="5.3"/>
<circle cx="948.4" cy="608.7" r="5.3"/>
<circle cx="968.5" cy="627.2" r="5.3"/>
<circle cx="794.4" cy="671.4" r="5.3"/>
<circle cx="787.8" cy="689.9" r="5.3"/>
<circle cx="812.9" cy="695.2" r="5.3"/>
<circle cx="815.6" cy="705.8" r="5.3"/>
<circle cx="812.9" cy="716.3" r="5.3"/>
<circle cx="823.5" cy="730.9" r="5.3"/>
<circle cx="764.0" cy="740.2" r="5.3"/>
<circle cx="781.2" cy="742.0" r="5.3"/>
<circle cx="801.0" cy="760.0" r="5.3"/>
<circle cx="835.4" cy="758.7" r="5.3"/>
<circle cx="832.8" cy="767.9" r="5.3"/>
<circle cx="838.0" cy="771.9" r="5.3"/>
<circle cx="883.0" cy="745.4" r="5.3"/>
<circle cx="873.8" cy="748.1" r="5.3"/>
<circle cx="879.0" cy="782.5" r="5.3"/>
<circle cx="869.8" cy="790.4" r="5.3"/>
<circle cx="857.9" cy="781.2" r="5.3"/>
<circle cx="839.4" cy="785.1" r="5.3"/>
<circle cx="827.5" cy="789.1" r="5.3"/>
<circle cx="909.5" cy="786.5" r="5.3"/>
<circle cx="847.3" cy="811.1" r="5.3"/>
<circle cx="884.3" cy="826.7" r="5.3"/>
<circle cx="944.4" cy="767.9" r="5.3"/>
<circle cx="969.0" cy="783.8" r="5.3"/>
<circle cx="976.9" cy="781.2" r="5.3"/>
<circle cx="977.5" cy="699.7" r="5.3"/>
<circle cx="978.3" cy="716.3" r="5.3"/>
<circle cx="1128.3" cy="553.7" r="5.3"/>
<circle cx="1155.5" cy="553.7" r="5.3"/>
<circle cx="1000.7" cy="820.8" r="5.3"/>
<circle cx="998.1" cy="830.1" r="5.3"/>
<circle cx="909.5" cy="875.1" r="5.3"/>
<circle cx="939.1" cy="869.8" r="5.3"/>
<circle cx="1135.7" cy="856.6" r="5.3"/>
<circle cx="1143.6" cy="864.5" r="5.3"/>
<circle cx="1151.5" cy="875.1" r="5.3"/>
<circle cx="1156.8" cy="872.4" r="5.3"/>
<circle cx="1151.5" cy="832.8" r="5.3"/>
<circle cx="1158.1" cy="840.7" r="5.3"/>
<circle cx="1163.8" cy="528.5" r="5.3"/>
<circle cx="1174.4" cy="539.1" r="5.3"/>
<circle cx="1178.4" cy="548.4" r="5.3"/>
<circle cx="1205.6" cy="544.4" r="5.3"/>
<circle cx="1161.2" cy="558.9" r="5.3"/>
<circle cx="1241.9" cy="581.4" r="5.3"/>
<circle cx="1240.5" cy="608.4" r="5.3"/>
<circle cx="1281.5" cy="555.0" r="5.3"/>
<circle cx="1280.7" cy="576.7" r="5.3"/>
<circle cx="1273.6" cy="597.3" r="5.3"/>
<circle cx="1278.9" cy="599.9" r="5.3"/>
<circle cx="1304.0" cy="580.1" r="5.3"/>
<circle cx="1307.2" cy="580.1" r="5.3"/>
<circle cx="1314.6" cy="553.7" r="5.3"/>
<circle cx="1339.7" cy="548.4" r="5.3"/>
<circle cx="1342.9" cy="582.0" r="5.3"/>
<circle cx="1391.9" cy="588.6" r="5.3"/>
<circle cx="1388.7" cy="612.6" r="5.3"/>
<circle cx="1350.3" cy="619.0" r="5.3"/>
<circle cx="1376.2" cy="621.1" r="5.3"/>
<circle cx="1338.4" cy="626.4" r="5.3"/>
<circle cx="1342.4" cy="626.4" r="5.3"/>
<circle cx="1341.6" cy="641.5" r="5.3"/>
<circle cx="1359.6" cy="641.5" r="5.3"/>
<circle cx="1380.2" cy="644.4" r="5.3"/>
<circle cx="1332.6" cy="653.7" r="5.3"/>
<circle cx="1347.7" cy="653.7" r="5.3"/>
<circle cx="1354.8" cy="659.5" r="5.3"/>
<circle cx="1274.9" cy="645.4" r="5.3"/>
<circle cx="1282.9" cy="646.2" r="5.3"/>
<circle cx="1286.8" cy="647.6" r="5.3"/>
<circle cx="1281.5" cy="654.2" r="5.3"/>
<circle cx="1298.7" cy="647.6" r="5.3"/>
<circle cx="1305.3" cy="644.9" r="5.3"/>
<circle cx="1293.4" cy="663.4" r="5.3"/>
<circle cx="1298.7" cy="660.8" r="5.3"/>
<circle cx="1286.8" cy="678.0" r="5.3"/>
<circle cx="1320.4" cy="684.1" r="5.3"/>
<circle cx="1343.7" cy="680.6" r="5.3"/>
<circle cx="1388.7" cy="691.2" r="5.3"/>
<circle cx="1268.3" cy="688.6" r="5.3"/>
<circle cx="1280.2" cy="692.5" r="5.3"/>
<circle cx="1256.4" cy="704.4" r="5.3"/>
<circle cx="1251.1" cy="711.1" r="5.3"/>
<circle cx="1264.3" cy="705.8" r="5.3"/>
<circle cx="1272.3" cy="700.5" r="5.3"/>
<circle cx="1277.6" cy="711.1" r="5.3"/>
<circle cx="1272.3" cy="716.3" r="5.3"/>
<circle cx="1288.1" cy="700.5" r="5.3"/>
<circle cx="1288.1" cy="711.1" r="5.3"/>
<circle cx="1308.0" cy="701.8" r="5.3"/>
<circle cx="1320.7" cy="702.6" r="5.3"/>
<circle cx="1334.4" cy="705.0" r="5.3"/>
<circle cx="1346.3" cy="698.4" r="5.3"/>
<circle cx="1346.3" cy="707.1" r="5.3"/>
<circle cx="1245.8" cy="723.0" r="5.3"/>
<circle cx="1253.8" cy="729.6" r="5.3"/>
<circle cx="1256.4" cy="721.6" r="5.3"/>
<circle cx="1247.1" cy="742.8" r="5.3"/>
<circle cx="1319.9" cy="723.0" r="5.3"/>
<circle cx="1322.0" cy="730.9" r="5.3"/>
<circle cx="1335.8" cy="751.3" r="5.3"/>
<circle cx="1342.4" cy="764.0" r="5.3"/>
<circle cx="1353.0" cy="770.6" r="5.3"/>
<circle cx="1361.7" cy="766.6" r="5.3"/>
<circle cx="1374.1" cy="771.9" r="5.3"/>
<circle cx="1329.9" cy="775.9" r="5.3"/>
<circle cx="1405.9" cy="724.8" r="5.3"/>
<circle cx="1424.4" cy="716.3" r="5.3"/>
<circle cx="1436.3" cy="723.0" r="5.3"/>
<circle cx="1406.7" cy="777.2" r="5.3"/>
<circle cx="1425.7" cy="786.5" r="5.3"/>
<circle cx="1439.7" cy="811.6" r="5.3"/>
<circle cx="1323.3" cy="803.7" r="5.3"/>
<circle cx="1319.9" cy="816.9" r="5.3"/>
<circle cx="1268.3" cy="826.1" r="5.3"/>
<circle cx="1353.8" cy="832.8" r="5.3"/>
<circle cx="1363.8" cy="826.9" r="5.3"/>
<circle cx="1162.5" cy="836.7" r="5.3"/>
<circle cx="1163.3" cy="843.3" r="5.3"/>
<circle cx="1150.6" cy="867.1" r="5.3"/>
<circle cx="1161.2" cy="871.1" r="5.3"/>
<circle cx="1170.4" cy="880.4" r="5.3"/>
<circle cx="1183.7" cy="889.6" r="5.3"/>
<circle cx="1183.7" cy="897.6" r="5.3"/>
<circle cx="1190.3" cy="898.9" r="5.3"/>
<circle cx="1186.3" cy="906.8" r="5.3"/>
<circle cx="1269.6" cy="705.8" r="5.3"/>
<circle cx="1274.9" cy="708.4" r="5.3"/>
<circle cx="1267.0" cy="711.1" r="5.3"/>
<circle cx="1259.0" cy="708.4" r="5.3"/>
<circle cx="726.1" cy="1021.3" r="5.3"/>
<circle cx="651.7" cy="881.0" r="5.3"/>
<circle cx="619.9" cy="937.5" r="5.3"/>
<circle cx="621.9" cy="941.5" r="5.3"/>
<circle cx="794.4" cy="965.3" r="5.3"/>
<circle cx="797.4" cy="992.1" r="5.3"/>
<circle cx="793.4" cy="1005.0" r="5.3"/>
<circle cx="803.3" cy="1007.0" r="5.3"/>
<circle cx="809.3" cy="1001.0" r="5.3"/>
<circle cx="807.3" cy="1051.6" r="5.3"/>
<circle cx="976.5" cy="948.5" r="5.3"/>
<circle cx="1072.2" cy="943.5" r="5.3"/>
<circle cx="987.7" cy="596.5" r="5.3"/>
<circle cx="990.7" cy="625.0" r="5.3"/>
<circle cx="987.7" cy="654.2" r="5.3"/>
<circle cx="1023.0" cy="643.9" r="5.3"/>
<circle cx="1048.4" cy="656.3" r="5.3"/>
<circle cx="1040.5" cy="667.5" r="5.3"/>
<circle cx="1027.8" cy="673.5" r="5.3"/>
<circle cx="1026.4" cy="678.7" r="5.3"/>
<circle cx="1029.9" cy="676.1" r="5.3"/>
<circle cx="1066.0" cy="666.3" r="5.3"/>
<circle cx="1079.7" cy="654.2" r="5.3"/>
<circle cx="1090.1" cy="653.7" r="5.3"/>
<circle cx="1096.9" cy="652.9" r="5.3"/>
<circle cx="1103.8" cy="649.4" r="5.3"/>
<circle cx="1110.7" cy="646.0" r="5.3"/>
<circle cx="1117.6" cy="649.4" r="5.3"/>
<circle cx="1119.3" cy="654.6" r="5.3"/>
<circle cx="1114.1" cy="659.7" r="5.3"/>
<circle cx="1110.7" cy="664.9" r="5.3"/>
<circle cx="1107.3" cy="670.1" r="5.3"/>
<circle cx="1100.4" cy="670.1" r="5.3"/>
<circle cx="1091.8" cy="673.5" r="5.3"/>
<circle cx="1086.6" cy="678.7" r="5.3"/>
<circle cx="1083.2" cy="683.8" r="5.3"/>
<circle cx="1044.5" cy="683.8" r="5.3"/>
<circle cx="1046.2" cy="689.0" r="5.3"/>
<circle cx="1055.7" cy="693.3" r="5.3"/>
<circle cx="1046.7" cy="699.6" r="5.3"/>
<circle cx="1041.0" cy="709.6" r="5.3"/>
<circle cx="1011.8" cy="711.0" r="5.3"/>
<circle cx="991.2" cy="716.5" r="5.3"/>
<circle cx="1090.1" cy="690.7" r="5.3"/>
<circle cx="1093.5" cy="697.6" r="5.3"/>
<circle cx="1083.2" cy="704.5" r="5.3"/>
<circle cx="1076.3" cy="707.9" r="5.3"/>
<circle cx="1069.4" cy="711.3" r="5.3"/>
<circle cx="1066.0" cy="718.2" r="5.3"/>
<circle cx="1069.4" cy="723.4" r="5.3"/>
<circle cx="1079.7" cy="713.1" r="5.3"/>
<circle cx="1086.6" cy="709.6" r="5.3"/>
<circle cx="1093.5" cy="711.3" r="5.3"/>
<circle cx="1100.4" cy="709.6" r="5.3"/>
<circle cx="1096.9" cy="718.2" r="5.3"/>
<circle cx="1090.1" cy="716.5" r="5.3"/>
<circle cx="1111.6" cy="702.7" r="5.3"/>
<circle cx="1059.1" cy="736.3" r="5.3"/>
<circle cx="1045.0" cy="749.2" r="5.3"/>
<circle cx="1022.1" cy="762.9" r="5.3"/>
<circle cx="986.0" cy="769.8" r="5.3"/>
<circle cx="995.1" cy="784.4" r="5.3"/>
<circle cx="983.4" cy="792.2" r="5.3"/>
<circle cx="1063.7" cy="787.0" r="5.3"/>
<circle cx="1066.0" cy="797.3" r="5.3"/>
<circle cx="1111.6" cy="792.2" r="5.3"/>
<circle cx="1125.8" cy="769.8" r="5.3"/>
<circle cx="1164.0" cy="750.9" r="5.3"/>
<circle cx="1161.4" cy="790.4" r="5.3"/>
<circle cx="1158.0" cy="799.9" r="5.3"/>
<circle cx="1178.6" cy="788.7" r="5.3"/>
<circle cx="1179.5" cy="798.2" r="5.3"/>
<circle cx="1178.6" cy="809.4" r="5.3"/>
<circle cx="1193.2" cy="809.4" r="5.3"/>
<circle cx="1203.6" cy="785.3" r="5.3"/>
<circle cx="1210.1" cy="745.7" r="5.3"/>
<circle cx="1210.4" cy="752.6" r="5.3"/>
<circle cx="1233.7" cy="754.3" r="5.3"/>
<circle cx="1236.2" cy="735.4" r="5.3"/>
<circle cx="1236.2" cy="697.6" r="5.3"/>
<circle cx="1182.9" cy="771.5" r="5.3"/>
<circle cx="1165.7" cy="635.7" r="5.3"/>
<circle cx="1184.6" cy="626.7" r="5.3"/>
<circle cx="1191.5" cy="608.2" r="5.3"/>
<circle cx="1152.0" cy="616.7" r="5.3"/>
<circle cx="1156.3" cy="599.6" r="5.3"/>
<circle cx="1155.4" cy="577.2" r="5.3"/>
<circle cx="1166.6" cy="564.3" r="5.3"/>
<circle cx="1141.7" cy="587.5" r="5.3"/>
<circle cx="1139.9" cy="594.4" r="5.3"/>
<circle cx="1127.9" cy="592.7" r="5.3"/>
<circle cx="1126.2" cy="601.3" r="5.3"/>
<circle cx="1109.0" cy="596.1" r="5.3"/>
<circle cx="1109.0" cy="606.4" r="5.3"/>
<circle cx="1100.4" cy="615.9" r="5.3"/>
<circle cx="1096.9" cy="625.3" r="5.3"/>
<circle cx="1109.0" cy="624.5" r="5.3"/>
<circle cx="1117.6" cy="620.2" r="5.3"/>
<circle cx="1126.2" cy="621.9" r="5.3"/>
<circle cx="1134.8" cy="623.6" r="5.3"/>
<circle cx="1083.2" cy="608.2" r="5.3"/>
<circle cx="1086.6" cy="609.9" r="5.3"/>
<circle cx="1076.3" cy="597.0" r="5.3"/>
<circle cx="1066.0" cy="599.6" r="5.3"/>
<circle cx="1069.4" cy="616.7" r="5.3"/>
<circle cx="1062.5" cy="620.2" r="5.3"/>
<circle cx="1059.1" cy="624.5" r="5.3"/>
<circle cx="1069.4" cy="627.9" r="5.3"/>
<circle cx="1041.9" cy="618.5" r="5.3"/>
<circle cx="1047.1" cy="627.9" r="5.3"/>
<circle cx="1088.3" cy="589.2" r="5.3"/>
<circle cx="1093.5" cy="584.1" r="5.3"/>
<circle cx="1100.4" cy="584.1" r="5.3"/>
<circle cx="1105.5" cy="576.3" r="5.3"/>
<circle cx="1083.2" cy="635.7" r="5.3"/>
<circle cx="1090.1" cy="639.1" r="5.3"/>
<circle cx="1093.5" cy="633.9" r="5.3"/>
<circle cx="1100.4" cy="642.5" r="5.3"/>
<circle cx="1107.3" cy="637.4" r="5.3"/>
<circle cx="1009.2" cy="740.6" r="5.3"/>
<circle cx="1005.8" cy="738.8" r="5.3"/>
<circle cx="1000.6" cy="816.2" r="5.3"/>
<circle cx="1021.3" cy="804.2" r="5.3"/>
<circle cx="1083.2" cy="633.9" r="5.3"/>
<circle cx="1088.3" cy="635.7" r="5.3"/>
<circle cx="1093.5" cy="636.5" r="5.3"/>
<circle cx="1098.7" cy="633.9" r="5.3"/>
<circle cx="1103.8" cy="635.7" r="5.3"/>
<circle cx="1086.6" cy="640.8" r="5.3"/>
<circle cx="1091.8" cy="642.5" r="5.3"/>
<circle cx="1096.9" cy="640.8" r="5.3"/>
<circle cx="1102.1" cy="640.8" r="5.3"/>
<circle cx="1107.3" cy="642.5" r="5.3"/>
<circle cx="1112.4" cy="640.8" r="5.3"/>
<circle cx="1117.6" cy="642.5" r="5.3"/>
<circle cx="1122.7" cy="646.0" r="5.3"/>
<circle cx="1090.1" cy="647.7" r="5.3"/>
<circle cx="1095.2" cy="646.0" r="5.3"/>
<circle cx="1100.4" cy="646.0" r="5.3"/>
<circle cx="1105.5" cy="647.7" r="5.3"/>
<circle cx="1110.7" cy="649.4" r="5.3"/>
<circle cx="1115.9" cy="651.1" r="5.3"/>
<circle cx="1121.0" cy="652.9" r="5.3"/>
<circle cx="1124.5" cy="654.6" r="5.3"/>
<circle cx="1083.2" cy="652.9" r="5.3"/>
<circle cx="1088.3" cy="656.3" r="5.3"/>
<circle cx="1093.5" cy="656.3" r="5.3"/>
<circle cx="1098.7" cy="658.0" r="5.3"/>
<circle cx="1103.8" cy="656.3" r="5.3"/>
<circle cx="1109.0" cy="656.3" r="5.3"/>
<circle cx="1114.1" cy="658.0" r="5.3"/>
<circle cx="1117.6" cy="661.5" r="5.3"/>
<circle cx="1112.4" cy="664.9" r="5.3"/>
<circle cx="1107.3" cy="663.2" r="5.3"/>
<circle cx="1102.1" cy="664.9" r="5.3"/>
<circle cx="1096.9" cy="666.6" r="5.3"/>
<circle cx="1091.8" cy="668.3" r="5.3"/>
<circle cx="1086.6" cy="671.8" r="5.3"/>
<circle cx="1083.2" cy="675.2" r="5.3"/>
<circle cx="1090.1" cy="673.5" r="5.3"/>
<circle cx="1096.9" cy="675.2" r="5.3"/>
<circle cx="1100.4" cy="678.7" r="5.3"/>
<circle cx="1086.6" cy="683.8" r="5.3"/>
<circle cx="1091.8" cy="683.8" r="5.3"/>
<circle cx="1098.7" cy="683.8" r="5.3"/>
<circle cx="1103.8" cy="683.8" r="5.3"/>
<circle cx="1090.1" cy="687.3" r="5.3"/>
<circle cx="1095.2" cy="689.0" r="5.3"/>
<circle cx="1100.4" cy="690.7" r="5.3"/>
<circle cx="1103.8" cy="697.6" r="5.3"/>
<circle cx="1096.9" cy="695.9" r="5.3"/>
<circle cx="1091.8" cy="695.9" r="5.3"/>
<circle cx="1086.6" cy="697.6" r="5.3"/>
<circle cx="1083.2" cy="701.0" r="5.3"/>
<circle cx="1078.0" cy="704.5" r="5.3"/>
<circle cx="1072.9" cy="706.2" r="5.3"/>
<circle cx="1069.4" cy="709.6" r="5.3"/>
<circle cx="1066.0" cy="711.3" r="5.3"/>
<circle cx="1076.3" cy="711.3" r="5.3"/>
<circle cx="1081.5" cy="709.6" r="5.3"/>
<circle cx="1086.6" cy="707.9" r="5.3"/>
<circle cx="1091.8" cy="706.2" r="5.3"/>
<circle cx="1096.9" cy="704.5" r="5.3"/>
<circle cx="1102.1" cy="706.2" r="5.3"/>
<circle cx="1105.5" cy="707.9" r="5.3"/>
<circle cx="1098.7" cy="713.1" r="5.3"/>
<circle cx="1093.5" cy="714.8" r="5.3"/>
<circle cx="1088.3" cy="714.8" r="5.3"/>
<circle cx="1083.2" cy="716.5" r="5.3"/>
<circle cx="1078.0" cy="718.2" r="5.3"/>
<circle cx="1072.9" cy="719.9" r="5.3"/>
<circle cx="1069.4" cy="725.1" r="5.3"/>
<circle cx="1096.9" cy="721.7" r="5.3"/>
<circle cx="1091.8" cy="719.9" r="5.3"/>
</g>
<path d="M809.4,652.8 L816.2,650.9 L824.1,654.8 L832.0,654.8 L834.0,662.7 L839.9,669.6 L840.8,680.4 L846.8,684.3 L851.7,688.3 L859.5,690.2 L862.5,696.1 L859.5,704.0 L861.5,710.9 L862.5,717.8 L859.5,723.7 L867.4,727.6 L868.4,734.5 L862.5,738.5 L855.6,735.5 L843.8,734.5 L832.0,734.5 L830.0,729.6 L828.1,719.8 L829.0,713.8 L825.1,704.0 L824.1,696.1 L820.2,694.2 L809.4,696.1 L806.4,692.2 L800.5,692.2 L794.6,690.2 L792.6,680.4 L796.6,676.5 L802.5,671.5 L808.4,668.6 L810.3,662.7 Z" fill="#c81c25"/>
<circle cx="807.6" cy="683.5" r="5" fill="#7a1f55" opacity="0.8"/>
<circle cx="829.8" cy="675" r="5" fill="#7a1f55" opacity="0.8"/>
<circle cx="838.3" cy="694.1" r="5" fill="#7a1f55" opacity="0.8"/>
<circle cx="812.9" cy="697.2" r="5" fill="#7a1f55" opacity="0.8"/>
<circle cx="793.9" cy="673.9" r="5" fill="#7a1f55" opacity="0.8"/>
<g fill="rgba(196,16,26,0.56)">
<circle cx="635.2" cy="186.7" r="5.4"/>
<circle cx="677.3" cy="203.1" r="5.4"/>
<circle cx="578.1" cy="313.7" r="5.4"/>
<circle cx="641.9" cy="324.8" r="5.4"/>
<circle cx="493.7" cy="360.5" r="5.4"/>
<circle cx="567.0" cy="359.2" r="5.4"/>
<circle cx="753.2" cy="361.3" r="5.4"/>
<circle cx="664.9" cy="378.5" r="5.4"/>
<circle cx="672.8" cy="392.5" r="5.4"/>
<circle cx="790.8" cy="393.9" r="5.4"/>
<circle cx="487.6" cy="393.6" r="5.4"/>
<circle cx="558.8" cy="389.9" r="5.4"/>
<circle cx="657.5" cy="409.5" r="5.4"/>
<circle cx="512.8" cy="414.8" r="5.4"/>
<circle cx="510.1" cy="414.8" r="5.4"/>
<circle cx="498.7" cy="405.8" r="5.4"/>
<circle cx="701.9" cy="446.5" r="5.4"/>
<circle cx="489.7" cy="454.7" r="5.4"/>
<circle cx="533.9" cy="455.2" r="5.4"/>
<circle cx="545.3" cy="483.0" r="5.4"/>
<circle cx="545.3" cy="483.0" r="5.4"/>
<circle cx="494.2" cy="485.1" r="5.4"/>
<circle cx="523.3" cy="493.6" r="5.4"/>
<circle cx="540.0" cy="506.8" r="5.4"/>
<circle cx="766.2" cy="498.9" r="5.4"/>
<circle cx="518.8" cy="370.6" r="5.4"/>
<circle cx="520.7" cy="369.8" r="5.4"/>
<circle cx="508.3" cy="414.2" r="5.4"/>
<circle cx="530.7" cy="430.1" r="5.4"/>
<circle cx="551.1" cy="431.4" r="5.4"/>
<circle cx="701.9" cy="444.7" r="5.4"/>
<circle cx="494.2" cy="491.0" r="5.4"/>
<circle cx="1112.5" cy="453.1" r="5.4"/>
<circle cx="1133.7" cy="457.9" r="5.4"/>
<circle cx="1205.3" cy="460.5" r="5.4"/>
<circle cx="851.9" cy="487.0" r="5.4"/>
<circle cx="1197.9" cy="506.8" r="5.4"/>
<circle cx="1313.4" cy="469.0" r="5.4"/>
<circle cx="1355.8" cy="458.7" r="5.4"/>
<circle cx="1361.1" cy="462.6" r="5.4"/>
<circle cx="1338.6" cy="435.4" r="5.4"/>
<circle cx="535.9" cy="543.9" r="5.4"/>
<circle cx="657.6" cy="594.1" r="5.4"/>
<circle cx="668.2" cy="601.3" r="5.4"/>
<circle cx="465.8" cy="586.7" r="5.4"/>
<circle cx="592.8" cy="654.2" r="5.4"/>
<circle cx="590.2" cy="650.2" r="5.4"/>
<circle cx="598.1" cy="652.9" r="5.4"/>
<circle cx="592.8" cy="658.1" r="5.4"/>
<circle cx="594.1" cy="651.5" r="5.4"/>
<circle cx="590.2" cy="655.5" r="5.4"/>
<circle cx="595.4" cy="656.8" r="5.4"/>
<circle cx="607.4" cy="643.6" r="5.4"/>
<circle cx="530.6" cy="672.7" r="5.4"/>
<circle cx="528.0" cy="674.0" r="5.4"/>
<circle cx="539.9" cy="667.4" r="5.4"/>
<circle cx="550.5" cy="698.4" r="5.4"/>
<circle cx="552.6" cy="711.6" r="5.4"/>
<circle cx="517.4" cy="744.1" r="5.4"/>
<circle cx="481.7" cy="749.4" r="5.4"/>
<circle cx="512.1" cy="756.0" r="5.4"/>
<circle cx="510.8" cy="764.0" r="5.4"/>
<circle cx="506.8" cy="765.3" r="5.4"/>
<circle cx="485.1" cy="776.7" r="5.4"/>
<circle cx="521.4" cy="775.9" r="5.4"/>
<circle cx="429.3" cy="786.5" r="5.4"/>
<circle cx="429.3" cy="789.1" r="5.4"/>
<circle cx="429.3" cy="820.8" r="5.4"/>
<circle cx="426.1" cy="823.5" r="5.4"/>
<circle cx="491.0" cy="842.5" r="5.4"/>
<circle cx="584.9" cy="843.3" r="5.4"/>
<circle cx="582.2" cy="842.0" r="5.4"/>
<circle cx="608.1" cy="852.6" r="5.4"/>
<circle cx="645.7" cy="729.6" r="5.4"/>
<circle cx="661.6" cy="724.3" r="5.4"/>
<circle cx="685.4" cy="729.6" r="5.4"/>
<circle cx="692.0" cy="733.5" r="5.4"/>
<circle cx="715.8" cy="834.1" r="5.4"/>
<circle cx="714.5" cy="831.4" r="5.4"/>
<circle cx="715.8" cy="836.7" r="5.4"/>
<circle cx="545.2" cy="896.2" r="5.4"/>
<circle cx="551.8" cy="897.6" r="5.4"/>
<circle cx="573.0" cy="897.6" r="5.4"/>
<circle cx="626.7" cy="901.5" r="5.4"/>
<circle cx="615.3" cy="513.2" r="5.4"/>
<circle cx="584.9" cy="647.6" r="5.4"/>
<circle cx="587.5" cy="652.9" r="5.4"/>
<circle cx="590.2" cy="658.1" r="5.4"/>
<circle cx="595.4" cy="660.8" r="5.4"/>
<circle cx="598.1" cy="655.5" r="5.4"/>
<circle cx="600.7" cy="650.2" r="5.4"/>
<circle cx="592.8" cy="644.9" r="5.4"/>
<circle cx="587.5" cy="644.9" r="5.4"/>
<circle cx="584.9" cy="658.1" r="5.4"/>
<circle cx="598.1" cy="647.6" r="5.4"/>
<circle cx="603.4" cy="652.9" r="5.4"/>
<circle cx="595.4" cy="650.2" r="5.4"/>
<circle cx="590.2" cy="662.1" r="5.4"/>
<circle cx="586.2" cy="654.2" r="5.4"/>
<circle cx="592.8" cy="654.2" r="5.4"/>
<circle cx="596.8" cy="658.1" r="5.4"/>
<circle cx="887.5" cy="527.7" r="5.4"/>
<circle cx="821.6" cy="555.0" r="5.4"/>
<circle cx="903.1" cy="652.1" r="5.4"/>
<circle cx="781.2" cy="687.2" r="5.4"/>
<circle cx="810.3" cy="732.2" r="5.4"/>
<circle cx="820.8" cy="744.1" r="5.4"/>
<circle cx="838.0" cy="744.1" r="5.4"/>
<circle cx="861.9" cy="754.7" r="5.4"/>
<circle cx="872.4" cy="749.4" r="5.4"/>
<circle cx="881.7" cy="756.0" r="5.4"/>
<circle cx="883.0" cy="764.0" r="5.4"/>
<circle cx="885.7" cy="767.9" r="5.4"/>
<circle cx="873.8" cy="771.9" r="5.4"/>
<circle cx="871.1" cy="774.6" r="5.4"/>
<circle cx="831.4" cy="774.6" r="5.4"/>
<circle cx="823.5" cy="757.4" r="5.4"/>
<circle cx="844.7" cy="794.4" r="5.4"/>
<circle cx="857.9" cy="786.5" r="5.4"/>
<circle cx="855.2" cy="787.8" r="5.4"/>
<circle cx="811.6" cy="835.4" r="5.4"/>
<circle cx="827.5" cy="836.7" r="5.4"/>
<circle cx="849.9" cy="840.7" r="5.4"/>
<circle cx="847.3" cy="842.0" r="5.4"/>
<circle cx="831.4" cy="859.2" r="5.4"/>
<circle cx="844.7" cy="856.6" r="5.4"/>
<circle cx="839.4" cy="853.9" r="5.4"/>
<circle cx="935.9" cy="877.7" r="5.4"/>
<circle cx="942.5" cy="880.4" r="5.4"/>
<circle cx="950.5" cy="888.3" r="5.4"/>
<circle cx="1156.8" cy="822.2" r="5.4"/>
<circle cx="1198.2" cy="511.3" r="5.4"/>
<circle cx="1271.0" cy="652.9" r="5.4"/>
<circle cx="1304.8" cy="633.0" r="5.4"/>
<circle cx="1296.1" cy="685.9" r="5.4"/>
<circle cx="1278.9" cy="695.2" r="5.4"/>
<circle cx="1255.6" cy="724.3" r="5.4"/>
<circle cx="1275.7" cy="724.8" r="5.4"/>
<circle cx="1190.3" cy="826.7" r="5.4"/>
<circle cx="1158.5" cy="827.5" r="5.4"/>
<circle cx="1318.6" cy="536.5" r="5.4"/>
<circle cx="1341.6" cy="529.8" r="5.4"/>
<circle cx="1321.2" cy="562.9" r="5.4"/>
<circle cx="1365.7" cy="562.9" r="5.4"/>
<circle cx="1403.2" cy="617.1" r="5.4"/>
<circle cx="1360.9" cy="670.6" r="5.4"/>
<circle cx="1356.9" cy="765.3" r="5.4"/>
<circle cx="1322.5" cy="797.0" r="5.4"/>
<circle cx="1330.5" cy="802.3" r="5.4"/>
<circle cx="1427.0" cy="790.4" r="5.4"/>
<circle cx="1425.7" cy="789.1" r="5.4"/>
<circle cx="619.9" cy="936.5" r="5.4"/>
<circle cx="621.5" cy="945.5" r="5.4"/>
<circle cx="620.9" cy="939.5" r="5.4"/>
<circle cx="785.5" cy="1001.4" r="5.4"/>
<circle cx="801.3" cy="1005.0" r="5.4"/>
<circle cx="806.3" cy="1004.0" r="5.4"/>
<circle cx="805.3" cy="1007.0" r="5.4"/>
<circle cx="809.3" cy="1014.9" r="5.4"/>
<circle cx="795.4" cy="1022.5" r="5.4"/>
<circle cx="815.2" cy="1052.2" r="5.4"/>
<circle cx="849.0" cy="980.2" r="5.4"/>
<circle cx="938.3" cy="881.0" r="5.4"/>
<circle cx="1065.2" cy="920.7" r="5.4"/>
<circle cx="1045.3" cy="619.8" r="5.4"/>
<circle cx="1156.3" cy="583.2" r="5.4"/>
<circle cx="1055.3" cy="670.9" r="5.4"/>
<circle cx="1100.4" cy="666.6" r="5.4"/>
<circle cx="1098.7" cy="663.2" r="5.4"/>
<circle cx="1093.5" cy="680.4" r="5.4"/>
<circle cx="1090.1" cy="678.7" r="5.4"/>
<circle cx="1095.2" cy="683.8" r="5.4"/>
<circle cx="1100.4" cy="692.4" r="5.4"/>
<circle cx="1103.8" cy="695.9" r="5.4"/>
<circle cx="1107.3" cy="692.4" r="5.4"/>
<circle cx="1079.7" cy="679.5" r="5.4"/>
<circle cx="1086.6" cy="701.9" r="5.4"/>
<circle cx="1038.5" cy="705.3" r="5.4"/>
<circle cx="1064.3" cy="719.9" r="5.4"/>
<circle cx="1006.7" cy="725.1" r="5.4"/>
<circle cx="993.8" cy="736.3" r="5.4"/>
<circle cx="1005.8" cy="737.1" r="5.4"/>
<circle cx="1004.1" cy="739.7" r="5.4"/>
<circle cx="1022.1" cy="739.7" r="5.4"/>
<circle cx="1064.3" cy="738.8" r="5.4"/>
<circle cx="1224.2" cy="768.1" r="5.4"/>
<circle cx="1206.1" cy="795.6" r="5.4"/>
<circle cx="1143.4" cy="598.7" r="5.4"/>
<circle cx="1109.0" cy="661.5" r="5.4"/>
<circle cx="1062.5" cy="738.0" r="5.4"/>
<circle cx="1103.8" cy="663.2" r="5.4"/>
<circle cx="1100.4" cy="668.3" r="5.4"/>
<circle cx="1098.7" cy="671.8" r="5.4"/>
<circle cx="1093.5" cy="678.7" r="5.4"/>
<circle cx="1091.8" cy="682.1" r="5.4"/>
<circle cx="1098.7" cy="694.1" r="5.4"/>
<circle cx="1102.1" cy="697.6" r="5.4"/>
<circle cx="1105.5" cy="694.1" r="5.4"/>
<circle cx="1083.2" cy="702.7" r="5.4"/>
<circle cx="1086.6" cy="704.5" r="5.4"/>
<circle cx="1079.7" cy="680.4" r="5.4"/>
<circle cx="1076.3" cy="678.7" r="5.4"/>
<circle cx="810.7" cy="649.9" r="5.4"/>
<circle cx="819.7" cy="650.8" r="5.4"/>
<circle cx="823.5" cy="653.1" r="5.4"/>
<circle cx="833.8" cy="653.3" r="5.4"/>
<circle cx="834.8" cy="662.1" r="5.4"/>
<circle cx="839.3" cy="670.1" r="5.4"/>
<circle cx="843.6" cy="680.6" r="5.4"/>
<circle cx="849.1" cy="682.7" r="5.4"/>
<circle cx="854.6" cy="686.9" r="5.4"/>
<circle cx="862.1" cy="691.8" r="5.4"/>
<circle cx="864.3" cy="699.7" r="5.4"/>
<circle cx="862.7" cy="708.8" r="5.4"/>
<circle cx="865.1" cy="713.4" r="5.4"/>
<circle cx="864.4" cy="721.9" r="5.4"/>
<circle cx="862.1" cy="725.5" r="5.4"/>
<circle cx="869.5" cy="730.6" r="5.4"/>
<circle cx="871.6" cy="737.0" r="5.4"/>
<circle cx="864.6" cy="741.1" r="5.4"/>
<circle cx="856.3" cy="739.0" r="5.4"/>
<circle cx="852.2" cy="736.5" r="5.4"/>
<circle cx="843.3" cy="736.0" r="5.4"/>
<circle cx="835.4" cy="737.7" r="5.4"/>
<circle cx="830.6" cy="736.5" r="5.4"/>
<circle cx="827.9" cy="727.9" r="5.4"/>
<circle cx="829.5" cy="718.2" r="5.4"/>
<circle cx="828.1" cy="714.2" r="5.4"/>
<circle cx="825.2" cy="705.1" r="5.4"/>
<circle cx="820.3" cy="696.6" r="5.4"/>
<circle cx="818.3" cy="694.5" r="5.4"/>
<circle cx="805.7" cy="695.5" r="5.4"/>
<circle cx="802.2" cy="691.4" r="5.4"/>
<circle cx="796.3" cy="690.7" r="5.4"/>
<circle cx="792.5" cy="685.2" r="5.4"/>
<circle cx="791.2" cy="679.3" r="5.4"/>
<circle cx="794.4" cy="674.2" r="5.4"/>
<circle cx="802.7" cy="668.2" r="5.4"/>
<circle cx="807.9" cy="665.0" r="5.4"/>
<circle cx="809.4" cy="656.5" r="5.4"/>
</g>
</g>
<path d="M504.4,127 A3157.5,3157.5 0 0 0 1340,118.5 L1510.4,1107 A2777,2777 0 0 1 368.9,1115.4 Z" fill="none" stroke="#231f20" stroke-width="2.6"/>
<rect x="737.2" y="765.9" width="158.9" height="173.6" fill="none" stroke="#000" stroke-width="1.8"/>
<rect x="1010.6" y="632.9" width="142.9" height="157.1" fill="none" stroke="#000" stroke-width="1.8"/>
<defs><clipPath id="cfw"><rect x="1495.8" y="213.8" width="460.70000000000005" height="513.2"/></clipPath></defs>
<rect x="1495.8" y="213.8" width="460.70000000000005" height="513.2" fill="#fde8c6"/>
<g clip-path="url(#cfw)">
<g fill="#1e6cb4">
<circle cx="1528.2" cy="219.5" r="15"/>
<circle cx="1783.1" cy="223.8" r="15"/>
<circle cx="1763.7" cy="264.7" r="15"/>
<circle cx="1789.5" cy="253.9" r="15"/>
<circle cx="1780.9" cy="269.0" r="15"/>
<circle cx="1841.1" cy="249.6" r="15"/>
<circle cx="1899.2" cy="249.6" r="15"/>
<circle cx="1871.2" cy="271.1" r="15"/>
<circle cx="1811.0" cy="327.9" r="15"/>
<circle cx="1912.1" cy="369.1" r="15"/>
<circle cx="1806.7" cy="406.6" r="15"/>
</g>
<g fill="rgba(196,16,26,0.56)">
<circle cx="1768.0" cy="228.1" r="15"/>
<circle cx="1879.8" cy="228.1" r="15"/>
<circle cx="1879.8" cy="232.4" r="15"/>
<circle cx="1918.5" cy="217.4" r="15"/>
<circle cx="1841.1" cy="264.7" r="15"/>
<circle cx="1832.5" cy="264.7" r="15"/>
<circle cx="1811.0" cy="281.9" r="15"/>
<circle cx="1802.4" cy="279.7" r="15"/>
<circle cx="1714.3" cy="391.5" r="15"/>
<circle cx="1759.4" cy="395.8" r="15"/>
<circle cx="1763.7" cy="393.7" r="15"/>
<circle cx="1815.3" cy="406.6" r="15"/>
<circle cx="1819.6" cy="404.4" r="15"/>
<circle cx="1806.7" cy="404.4" r="15"/>
<circle cx="1772.3" cy="458.1" r="15"/>
<circle cx="1789.5" cy="447.4" r="15"/>
<circle cx="1802.4" cy="443.1" r="15"/>
<circle cx="1806.7" cy="453.8" r="15"/>
</g>
<polyline points="1557.4,217.4 1578.9,230.3 1600.4,223.8 1609.0,234.6 1617.6,249.6 1639.1,251.8 1660.6,258.2 1673.5,260.4 1695.0,264.7 1720.8,273.3 1738.0,288.3 1759.4,286.2 1780.9,290.5 1806.7,288.3 1823.9,284.0 1845.4,290.5 1866.9,301.2 1879.8,305.5 1892.7,299.1 1909.9,292.6 1931.4,290.5 1950.8,286.2" fill="none" stroke="#9c9c9c" stroke-width="2.6"/>
<polyline points="1662.7,221.7 1664.9,243.2 1669.2,256.1 1677.8,269.0 1695.0,260.4 1712.2,264.7 1720.8,277.6 1729.4,286.2 1746.6,290.5 1763.7,288.3 1780.9,294.8 1798.1,292.6 1806.7,299.1 1815.3,286.2 1823.9,281.9 1836.8,290.5 1849.7,292.6 1858.3,299.1 1875.5,309.8 1877.7,350.7 1884.1,350.7 1884.1,389.4 1864.8,389.4 1864.8,440.9 1871.2,458.1 1875.5,460.3 1830.4,488.2 1845.4,516.2 1826.1,529.1 1839.0,546.3 1787.4,578.5 1780.9,569.9 1733.7,595.7 1740.1,612.9 1729.4,625.8 1714.3,660.2 1703.6,681.7 1692.8,709.6" fill="none" stroke="#000" stroke-width="1.5"/>
<polyline points="1537.2,217.4 1537.2,251.8 1533.7,253.9 1533.7,294.8 1538.0,296.9 1538.0,391.5 1523.0,393.7 1523.0,486.1 1514.4,488.2 1514.4,542.0 1526.4,542.0 1526.4,679.6 1559.5,679.6 1559.5,702.3 1540.2,702.3 1538.0,709.6" fill="none" stroke="#000" stroke-width="1.5"/>
</g>
<rect x="1495.8" y="213.8" width="460.70000000000005" height="513.2" fill="none" stroke="#000" stroke-width="4"/>
<defs><clipPath id="cme"><rect x="2013.1" y="213.8" width="409.3000000000002" height="446.09999999999997"/></clipPath></defs>
<rect x="2013.1" y="213.8" width="409.3000000000002" height="446.09999999999997" fill="#fde8c6"/>
<g clip-path="url(#cme)">
<g fill="#1e6cb4">
<circle cx="2047.6" cy="247.4" r="15"/>
<circle cx="2120.5" cy="282.0" r="15"/>
<circle cx="2099.4" cy="314.6" r="15"/>
<circle cx="2170.4" cy="308.8" r="15"/>
<circle cx="2061.0" cy="328.0" r="15"/>
<circle cx="2057.2" cy="343.4" r="15"/>
<circle cx="2072.5" cy="339.5" r="15"/>
<circle cx="2112.8" cy="362.6" r="15"/>
<circle cx="2143.5" cy="385.6" r="15"/>
<circle cx="2116.6" cy="404.8" r="15"/>
<circle cx="2101.3" cy="431.6" r="15"/>
<circle cx="2020.7" cy="435.5" r="15"/>
<circle cx="2020.7" cy="523.7" r="15"/>
<circle cx="2112.8" cy="542.9" r="15"/>
<circle cx="2045.6" cy="581.3" r="15"/>
<circle cx="2147.3" cy="506.5" r="15"/>
<circle cx="2162.7" cy="650.4" r="15"/>
<circle cx="2300.8" cy="658.0" r="15"/>
<circle cx="2339.2" cy="600.5" r="15"/>
<circle cx="2227.9" cy="232.1" r="15"/>
<circle cx="2258.6" cy="228.3" r="15"/>
<circle cx="2297.0" cy="232.1" r="15"/>
<circle cx="2277.8" cy="247.4" r="15"/>
<circle cx="2216.4" cy="274.3" r="15"/>
<circle cx="2243.3" cy="274.3" r="15"/>
<circle cx="2266.3" cy="266.6" r="15"/>
<circle cx="2289.3" cy="266.6" r="15"/>
<circle cx="2304.7" cy="259.0" r="15"/>
<circle cx="2323.8" cy="262.8" r="15"/>
<circle cx="2320.0" cy="282.0" r="15"/>
<circle cx="2312.3" cy="301.2" r="15"/>
<circle cx="2293.1" cy="308.8" r="15"/>
<circle cx="2266.3" cy="308.8" r="15"/>
<circle cx="2239.4" cy="328.0" r="15"/>
<circle cx="2220.2" cy="339.5" r="15"/>
<circle cx="2208.7" cy="347.2" r="15"/>
<circle cx="2266.3" cy="339.5" r="15"/>
<circle cx="2254.8" cy="358.7" r="15"/>
<circle cx="2239.4" cy="354.9" r="15"/>
<circle cx="2243.3" cy="385.6" r="15"/>
<circle cx="2227.9" cy="404.8" r="15"/>
<circle cx="2212.6" cy="416.3" r="15"/>
<circle cx="2197.2" cy="431.6" r="15"/>
<circle cx="2181.9" cy="439.3" r="15"/>
<circle cx="2170.4" cy="462.3" r="15"/>
<circle cx="2181.9" cy="470.0" r="15"/>
<circle cx="2204.9" cy="447.0" r="15"/>
<circle cx="2227.9" cy="443.1" r="15"/>
<circle cx="2243.3" cy="447.0" r="15"/>
<circle cx="2258.6" cy="439.3" r="15"/>
<circle cx="2266.3" cy="427.8" r="15"/>
<circle cx="2254.8" cy="458.5" r="15"/>
<circle cx="2235.6" cy="450.8" r="15"/>
<circle cx="2298.9" cy="412.4" r="15"/>
<circle cx="2116.6" cy="216.7" r="15"/>
<circle cx="2181.9" cy="212.9" r="15"/>
<circle cx="2343.0" cy="214.8" r="15"/>
<circle cx="2220.2" cy="216.7" r="15"/>
<circle cx="2250.9" cy="216.7" r="15"/>
<circle cx="2216.4" cy="228.3" r="15"/>
<circle cx="2235.6" cy="224.4" r="15"/>
<circle cx="2258.6" cy="222.5" r="15"/>
<circle cx="2227.9" cy="239.8" r="15"/>
<circle cx="2243.3" cy="239.8" r="15"/>
<circle cx="2258.6" cy="239.8" r="15"/>
<circle cx="2274.0" cy="235.9" r="15"/>
<circle cx="2289.3" cy="235.9" r="15"/>
<circle cx="2297.0" cy="243.6" r="15"/>
<circle cx="2304.7" cy="239.8" r="15"/>
<circle cx="2235.6" cy="262.8" r="15"/>
<circle cx="2258.6" cy="259.0" r="15"/>
<circle cx="2281.6" cy="259.0" r="15"/>
<circle cx="2297.0" cy="255.1" r="15"/>
<circle cx="2312.3" cy="251.3" r="15"/>
<circle cx="2327.7" cy="255.1" r="15"/>
<circle cx="2335.4" cy="266.6" r="15"/>
<circle cx="2327.7" cy="282.0" r="15"/>
<circle cx="2320.0" cy="293.5" r="15"/>
<circle cx="2312.3" cy="308.8" r="15"/>
<circle cx="2297.0" cy="316.5" r="15"/>
<circle cx="2281.6" cy="320.4" r="15"/>
<circle cx="2274.0" cy="293.5" r="15"/>
<circle cx="2289.3" cy="285.8" r="15"/>
<circle cx="2304.7" cy="285.8" r="15"/>
<circle cx="2258.6" cy="285.8" r="15"/>
<circle cx="2250.9" cy="301.2" r="15"/>
<circle cx="2274.0" cy="308.8" r="15"/>
<circle cx="2297.0" cy="301.2" r="15"/>
<circle cx="2316.2" cy="270.5" r="15"/>
<circle cx="2331.5" cy="274.3" r="15"/>
<circle cx="2220.2" cy="331.9" r="15"/>
<circle cx="2235.6" cy="320.4" r="15"/>
<circle cx="2250.9" cy="324.2" r="15"/>
<circle cx="2227.9" cy="347.2" r="15"/>
<circle cx="2212.6" cy="354.9" r="15"/>
<circle cx="2266.3" cy="331.9" r="15"/>
<circle cx="2274.0" cy="324.2" r="15"/>
<circle cx="2174.2" cy="439.3" r="15"/>
<circle cx="2189.5" cy="431.6" r="15"/>
<circle cx="2204.9" cy="424.0" r="15"/>
<circle cx="2220.2" cy="431.6" r="15"/>
<circle cx="2235.6" cy="424.0" r="15"/>
<circle cx="2250.9" cy="416.3" r="15"/>
<circle cx="2266.3" cy="416.3" r="15"/>
<circle cx="2274.0" cy="431.6" r="15"/>
<circle cx="2258.6" cy="447.0" r="15"/>
<circle cx="2243.3" cy="454.7" r="15"/>
<circle cx="2227.9" cy="454.7" r="15"/>
<circle cx="2212.6" cy="447.0" r="15"/>
<circle cx="2197.2" cy="454.7" r="15"/>
<circle cx="2181.9" cy="462.3" r="15"/>
<circle cx="2170.4" cy="470.0" r="15"/>
<circle cx="2189.5" cy="477.7" r="15"/>
<circle cx="2204.9" cy="470.0" r="15"/>
<circle cx="2220.2" cy="466.2" r="15"/>
<circle cx="2235.6" cy="466.2" r="15"/>
<circle cx="2250.9" cy="466.2" r="15"/>
<circle cx="2220.2" cy="408.6" r="15"/>
<circle cx="2235.6" cy="400.9" r="15"/>
<circle cx="2250.9" cy="393.3" r="15"/>
</g>
<g fill="rgba(196,16,26,0.56)">
<circle cx="2141.6" cy="322.3" r="15"/>
<circle cx="2091.7" cy="420.1" r="15"/>
<circle cx="2016.9" cy="475.8" r="15"/>
<circle cx="2045.6" cy="516.1" r="15"/>
<circle cx="2016.9" cy="500.7" r="15"/>
<circle cx="2162.7" cy="510.3" r="15"/>
<circle cx="2258.6" cy="308.8" r="15"/>
<circle cx="2264.4" cy="312.7" r="15"/>
<circle cx="2243.3" cy="347.2" r="15"/>
<circle cx="2250.9" cy="354.9" r="15"/>
<circle cx="2258.6" cy="362.6" r="15"/>
<circle cx="2274.0" cy="385.6" r="15"/>
<circle cx="2277.8" cy="377.9" r="15"/>
<circle cx="2210.6" cy="347.2" r="15"/>
<circle cx="2227.9" cy="404.8" r="15"/>
<circle cx="2289.3" cy="293.5" r="15"/>
<circle cx="2162.7" cy="462.3" r="15"/>
<circle cx="2155.0" cy="508.4" r="15"/>
<circle cx="2266.3" cy="400.9" r="15"/>
<circle cx="2262.4" cy="314.6" r="15"/>
<circle cx="2250.9" cy="354.9" r="15"/>
<circle cx="2254.8" cy="360.6" r="15"/>
<circle cx="2275.9" cy="385.6" r="15"/>
<circle cx="2268.2" cy="400.9" r="15"/>
</g>
<polyline points="2014.9,364.5 2105.1,360.6 2204.9,356.8 2277.8,349.1 2392.9,341.5 2392.9,322.3 2419.8,322.3" fill="none" stroke="#a8a8a8" stroke-width="2.6"/>
<polyline points="2250.9,239.8 2254.8,259.0 2266.3,285.8 2281.6,308.8 2285.5,339.5 2274.0,349.1" fill="none" stroke="#a8a8a8" stroke-width="2.6"/>
<polyline points="2204.9,356.8 2201.1,385.6 2185.7,408.6 2181.9,416.3 2204.9,416.3 2220.2,454.7 2212.6,473.8 2208.7,493.0 2212.6,516.1 2204.9,523.7 2197.2,531.4 2193.4,546.8 2178.0,554.4 2174.2,577.5 2166.5,592.8 2158.8,608.2 2151.2,623.5 2143.5,638.8 2139.7,654.2" fill="none" stroke="#a8a8a8" stroke-width="2.6"/>
<polyline points="2197.2,531.4 2297.0,525.6 2396.8,518.0 2419.8,518.0" fill="none" stroke="#a8a8a8" stroke-width="2.6"/>
<polyline points="2396.8,518.0 2400.6,531.4 2402.5,658.0" fill="none" stroke="#a8a8a8" stroke-width="2.6"/>
<polyline points="2381.4,216.7 2381.4,222.5 2350.7,230.2 2343.0,239.8 2350.7,251.3 2350.7,278.1 2339.2,278.1" fill="none" stroke="#a8a8a8" stroke-width="2.6"/>
<polyline points="2014.9,571.7 2039.9,546.8 2066.7,519.9 2082.1,496.9 2082.1,473.8 2089.8,447.0 2105.1,420.1 2124.3,389.4 2143.5,366.4 2162.7,339.5 2178.0,312.7 2185.7,293.5 2204.9,274.3 2224.1,264.7 2250.9,262.8 2281.6,255.1 2308.5,251.3 2335.4,253.2 2354.5,266.6 2369.9,285.8 2377.6,312.7 2383.3,339.5 2385.2,370.2 2385.2,408.6 2385.2,447.0 2383.3,473.8 2373.7,485.4 2375.6,500.7 2381.4,512.2 2392.9,512.2 2392.9,500.7 2404.4,504.5 2412.1,516.1 2415.9,531.4 2408.3,539.1 2396.8,546.8 2392.9,562.1 2392.9,585.1 2400.6,600.5 2412.1,608.2 2415.9,623.5 2408.3,631.2 2408.3,636.9 2417.9,638.8" fill="none" stroke="#000" stroke-width="1.5"/>
</g>
<rect x="2013.1" y="213.8" width="409.3000000000002" height="446.09999999999997" fill="none" stroke="#000" stroke-width="4"/>
<rect x="403" y="1502" width="42.7" height="10.5" fill="#ebebeb"/>
<polyline points="334.9,1510.8 342.2,1511.3 360.0,1511.2 378.7,1510.1 390.0,1507.0 403.1,1502.8 420.0,1498.0 439.6,1493.7 463.9,1486.6 488.3,1479.3 518.7,1471.4 549.2,1465.3 585.7,1458.0 620.0,1451.9 656.5,1447.1 693.0,1440.0 729.6,1436.1 766.1,1431.2 796.5,1423.6 805.0,1422.7 817.3,1413.6 820.9,1410.5 839.2,1406.3 875.7,1393.7 910.0,1385.7 934.4,1378.4 940.4,1375.9 951.4,1366.2 970.9,1361.9 1007.4,1354.6 1043.9,1345.7 1068.3,1340.0 1092.6,1335.7 1123.1,1324.8 1153.5,1320.8 1177.9,1318.7 1205.0,1310.8 1230.4,1303.0 1260.9,1291.4 1297.4,1278.6 1333.9,1268.3 1370.5,1263.0 1394.8,1254.3 1419.2,1243.9 1455.7,1236.0 1480.0,1232.4 1500.0,1225.5 1536.5,1217.4 1573.1,1210.1 1609.6,1202.2 1646.1,1192.4 1670.5,1183.9 1707.0,1179.0 1743.5,1170.5 1774.0,1163.2 1790.0,1160.0 1814.4,1154.9 1826.5,1147.0 1838.7,1143.3 1875.2,1136.9 1911.8,1127.7 1948.3,1115.3 1978.7,1104.4 2009.2,1094.6 2045.7,1083.1 2080.0,1070.4 2104.4,1060.6 2128.7,1052.1 2153.0,1047.2 2177.4,1039.1 2201.8,1032.2 2209.5,1029.4" fill="none" stroke="#2356a1" stroke-width="16" stroke-linejoin="round" stroke-linecap="butt"/>
<polyline points="2209.0,1029.4 2226.1,1022.1 2242.3,1013.9 2255.0,1000.0 2269.8,984.0 2286.6,971.1 2299.5,967.1 2311.4,954.2 2322.3,944.3 2324.3,929.4 2329.3,915.6 2339.2,911.6 2349.1,907.6 2359.0,892.7 2360.0,874.9 2362.2,863.6 2368.3,849.9 2380.4,840.8 2395.6,830.1 2410.8,818.0 2423.0,808.8 2433.7,801.2 2435.2,789.0 2444.3,776.9 2459.5,767.8 2465.6,749.5 2471.7,731.3 2477.8,713.0 2480.8,693.2 2483.1,670.4 2485.4,649.1 2487.5,635.0 2489.1,621.2 2496.1,586.1 2503.2,533.5 2510.2,480.9 2517.2,428.2 2524.2,358.0 2529.5,287.9 2534.7,217.7 2540.0,145.8" fill="none" stroke="#fe2131" stroke-width="16" stroke-linejoin="round" stroke-linecap="butt"/>
<line x1="1209.5" y1="1350" x2="1277" y2="1350" stroke="#2356a1" stroke-width="16.5" stroke-linecap="round"/>
<line x1="1209.5" y1="1435.4" x2="1277" y2="1435.4" stroke="#fe2131" stroke-width="17.5" stroke-linecap="round"/>
<circle cx="1846.9" cy="415.8" r="6.8" fill="#000"/>
<rect x="1849.7" y="423.8" width="65.3" height="22.2" fill="#fff"/>
<circle cx="2226.8" cy="517.2" r="6" fill="#000"/>
<rect x="2229.8" y="524.9" width="83.3" height="22.6" fill="#fff"/>
<text x="330.5" y="131" font-size="68.4" text-anchor="end" stroke="#fff" stroke-width="0.9" font-family="Liberation Sans" fill="#231f20">2500</text>
<text x="330.5" y="408.2" font-size="68.4" text-anchor="end" stroke="#fff" stroke-width="0.9" font-family="Liberation Sans" fill="#231f20">2000</text>
<text x="330.5" y="684.8" font-size="68.4" text-anchor="end" stroke="#fff" stroke-width="0.9" font-family="Liberation Sans" fill="#231f20">1500</text>
<text x="330.5" y="973.6" font-size="68.4" text-anchor="end" stroke="#fff" stroke-width="0.9" font-family="Liberation Sans" fill="#231f20">1000</text>
<text x="330.5" y="1259.5" font-size="68.4" text-anchor="end" stroke="#fff" stroke-width="0.9" font-family="Liberation Sans" fill="#231f20">500</text>
<text x="330.5" y="1545.4" font-size="68.4" text-anchor="end" stroke="#fff" stroke-width="0.9" font-family="Liberation Sans" fill="#231f20">0</text>
<text x="445.9" y="1594.7" font-size="68.4" text-anchor="middle" stroke="#fff" stroke-width="0.9" font-family="Liberation Sans" fill="#231f20">1975</text>
<text x="700.85" y="1594.7" font-size="68.4" text-anchor="middle" stroke="#fff" stroke-width="0.9" font-family="Liberation Sans" fill="#231f20">1980</text>
<text x="962.2" y="1594.7" font-size="68.4" text-anchor="middle" stroke="#fff" stroke-width="0.9" font-family="Liberation Sans" fill="#231f20">1985</text>
<text x="1223.35" y="1594.7" font-size="68.4" text-anchor="middle" stroke="#fff" stroke-width="0.9" font-family="Liberation Sans" fill="#231f20">1990</text>
<text x="1482.7" y="1594.7" font-size="68.4" text-anchor="middle" stroke="#fff" stroke-width="0.9" font-family="Liberation Sans" fill="#231f20">1995</text>
<text x="1744.0" y="1594.7" font-size="68.4" text-anchor="middle" stroke="#fff" stroke-width="0.9" font-family="Liberation Sans" fill="#231f20">2000</text>
<text x="2005.05" y="1594.7" font-size="68.4" text-anchor="middle" stroke="#fff" stroke-width="0.9" font-family="Liberation Sans" fill="#231f20">2005</text>
<text x="2259.9" y="1594.7" font-size="68.4" text-anchor="middle" stroke="#fff" stroke-width="0.9" font-family="Liberation Sans" fill="#231f20">2010</text>
<text x="2521.9" y="1594.7" font-size="68.4" text-anchor="middle" stroke="#fff" stroke-width="0.9" font-family="Liberation Sans" fill="#231f20">2015</text>
<text x="154.8" y="1262.5" font-size="70.6" textLength="908.5" lengthAdjust="spacingAndGlyphs" transform="rotate(-90 154.8 1262.5)" stroke="#fff" stroke-width="0.9" font-family="Liberation Sans" fill="#231f20">Number of M ≥ 3 Earthquakes</text>
<text x="1306" y="1366.8" font-size="63.1" stroke="#fff" stroke-width="0.9" font-family="Liberation Sans" fill="#231f20">858</text>
<text x="1469" y="1366.8" font-size="63.1" textLength="870" lengthAdjust="spacingAndGlyphs" stroke="#fff" stroke-width="0.9" font-family="Liberation Sans" fill="#231f20">M≥3 Earthquakes 1973 - 2008</text>
<text x="1308" y="1456.3" font-size="63.1" stroke="#fff" stroke-width="0.9" font-family="Liberation Sans" fill="#231f20">1570</text>
<text x="1469" y="1456.3" font-size="63.1" textLength="1014" lengthAdjust="spacingAndGlyphs" stroke="#fff" stroke-width="0.9" font-family="Liberation Sans" fill="#231f20">M≥3 Earthquakes 2009 - April 2015</text>
<text x="1571" y="184.3" font-size="42.6" textLength="310" lengthAdjust="spacingAndGlyphs" font-family="Liberation Sans" fill="#231f20">Fort Worth Basin</text>
<text x="1996.7" y="184.9" font-size="42.6" textLength="439.8" lengthAdjust="spacingAndGlyphs" font-family="Liberation Sans" fill="#231f20">Mississippi Embayment</text>
<text x="1489" y="771.1" font-size="42.4" textLength="151" lengthAdjust="spacingAndGlyphs" font-family="Liberation Sans" fill="#231f20">Figure 2</text>
<text x="2008" y="704.1" font-size="40.5" textLength="152" lengthAdjust="spacingAndGlyphs" font-family="Liberation Sans" fill="#231f20">Figure 6</text>
<text x="736" y="963.7" font-size="24.3" textLength="85" lengthAdjust="spacingAndGlyphs" font-family="Liberation Sans" fill="#231f20">Figure 2</text>
<text x="1008" y="813.7" font-size="23.3" textLength="84" lengthAdjust="spacingAndGlyphs" font-family="Liberation Sans" fill="#231f20">Figure 6</text>
<text x="1850.3" y="441.1" font-size="21.5" textLength="57.5" lengthAdjust="spacingAndGlyphs" font-family="Liberation Sans" fill="#231f20">Dallas</text>
<text x="2229.4" y="541.8" font-size="20.6" textLength="83.5" lengthAdjust="spacingAndGlyphs" font-family="Liberation Sans" fill="#231f20">Memphis</text>
</svg>
</body></html>
